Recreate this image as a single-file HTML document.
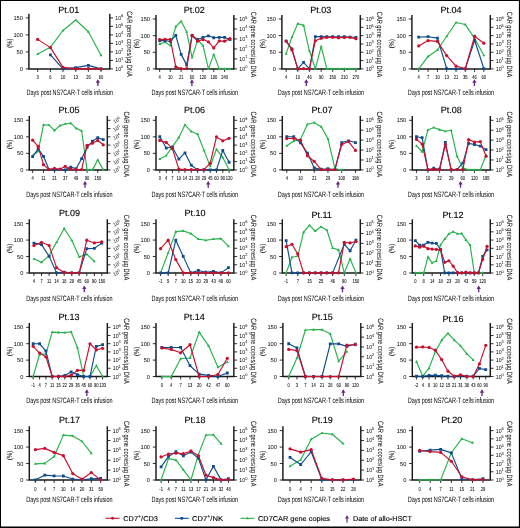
<!DOCTYPE html>
<html><head><meta charset="utf-8"><title>CD7 CAR-T patient kinetics</title>
<style>
html,body{margin:0;padding:0;background:#fff;}
body{width:520px;height:528px;overflow:hidden;font-family:"Liberation Sans",Arial,sans-serif;}
svg{display:block;will-change:transform;}
svg text{font-family:"Liberation Sans",Arial,Helvetica,sans-serif;}
</style></head><body>
<svg width="520" height="528" viewBox="0 0 520 528" text-rendering="geometricPrecision">
<rect x="0" y="0" width="520" height="528" fill="#fff"/>
<g>
<text x="68.7" y="13.4" font-size="9" text-anchor="middle" fill="#000" stroke="#000" stroke-width="0.12" >Pt.01</text>
<path fill="none" stroke="#1a1a1a" stroke-width="1.45" d="M28.9 13.8V68.9H109.8V13.8"/>
<path fill="none" stroke="#1a1a1a" stroke-width="0.9" d="M28.9 68.9h-3.2M28.9 51.9h-3.2M28.9 34.9h-3.2M28.9 17.9h-3.2M109.8 68.9h3.2M109.8 60.4h3.2M109.8 51.9h3.2M109.8 43.4h3.2M109.8 34.9h3.2M109.8 26.4h3.2M109.8 17.9h3.2M37.66 68.9v3M50.42 68.9v3M63.02 68.9v3M75.78 68.9v3M88.38 68.9v3M100.98 68.9v3"/>
<polyline fill="none" stroke="#25b34b" stroke-width="1.15" stroke-linejoin="round" points="37.66,54.08 50.42,47.13 63.02,30.49 75.78,19.99 88.38,31.78 100.98,55.21"/>
<path fill="#25b34b" d="M37.66 52.48l1.5 2.6h-3zM50.42 45.53l1.5 2.6h-3zM63.02 28.89l1.5 2.6h-3zM75.78 18.39l1.5 2.6h-3zM88.38 30.18l1.5 2.6h-3zM100.98 53.61l1.5 2.6h-3z"/>
<polyline fill="none" stroke="#0f4c8c" stroke-width="1.15" stroke-linejoin="round" points="50.42,54.88 63.02,68.9 75.78,67.65 88.38,65.38 100.98,68.9"/>
<path fill="#0f4c8c" d="M49.02 53.48h2.8v2.8h-2.8zM61.62 67.5h2.8v2.8h-2.8zM74.38 66.25h2.8v2.8h-2.8zM86.98 63.98h2.8v2.8h-2.8zM99.58 67.5h2.8v2.8h-2.8z"/>
<polyline fill="none" stroke="#c8102e" stroke-width="1.15" stroke-linejoin="round" points="37.66,39.38 50.42,47.62 63.02,67.32 75.78,68.9 88.38,68.62 100.98,68.9"/>
<circle cx="37.66" cy="39.38" r="1.62" fill="#c8102e"/>
<circle cx="50.42" cy="47.62" r="1.62" fill="#c8102e"/>
<circle cx="63.02" cy="67.32" r="1.62" fill="#c8102e"/>
<circle cx="75.78" cy="68.9" r="1.62" fill="#c8102e"/>
<circle cx="88.38" cy="68.62" r="1.62" fill="#c8102e"/>
<circle cx="100.98" cy="68.9" r="1.62" fill="#c8102e"/>
<text x="22.9" y="70.9" font-size="5.7" text-anchor="end" fill="#000" >0</text>
<text x="22.9" y="53.9" font-size="5.7" text-anchor="end" fill="#000" >50</text>
<text x="22.9" y="36.9" font-size="5.7" text-anchor="end" fill="#000" >100</text>
<text x="22.9" y="19.9" font-size="5.7" text-anchor="end" fill="#000" >150</text>
<text transform="translate(115.3 70.9) scale(0.92 1)" font-size="5.7" fill="#000" >10<tspan dy="-2.5" font-size="4.3">0</tspan></text>
<text transform="translate(115.3 62.4) scale(0.92 1)" font-size="5.7" fill="#000" >10<tspan dy="-2.5" font-size="4.3">1</tspan></text>
<text transform="translate(115.3 53.9) scale(0.92 1)" font-size="5.7" fill="#000" >10<tspan dy="-2.5" font-size="4.3">2</tspan></text>
<text transform="translate(115.3 45.4) scale(0.92 1)" font-size="5.7" fill="#000" >10<tspan dy="-2.5" font-size="4.3">3</tspan></text>
<text transform="translate(115.3 36.9) scale(0.92 1)" font-size="5.7" fill="#000" >10<tspan dy="-2.5" font-size="4.3">4</tspan></text>
<text transform="translate(115.3 28.4) scale(0.92 1)" font-size="5.7" fill="#000" >10<tspan dy="-2.5" font-size="4.3">5</tspan></text>
<text transform="translate(115.3 19.9) scale(0.92 1)" font-size="5.7" fill="#000" >10<tspan dy="-2.5" font-size="4.3">6</tspan></text>
<text transform="translate(37.66 78.8) scale(0.7 1)" font-size="5.8" text-anchor="middle" fill="#000" stroke="#000" stroke-width="0.06" >3</text>
<text transform="translate(50.42 78.8) scale(0.7 1)" font-size="5.8" text-anchor="middle" fill="#000" stroke="#000" stroke-width="0.06" >6</text>
<text transform="translate(63.02 78.8) scale(0.7 1)" font-size="5.8" text-anchor="middle" fill="#000" stroke="#000" stroke-width="0.06" >10</text>
<text transform="translate(75.78 78.8) scale(0.7 1)" font-size="5.8" text-anchor="middle" fill="#000" stroke="#000" stroke-width="0.06" >13</text>
<text transform="translate(88.38 78.8) scale(0.7 1)" font-size="5.8" text-anchor="middle" fill="#000" stroke="#000" stroke-width="0.06" >26</text>
<text transform="translate(100.98 78.8) scale(0.7 1)" font-size="5.8" text-anchor="middle" fill="#000" stroke="#000" stroke-width="0.06" >60</text>
<text transform="translate(11.8 43.2) rotate(-90) scale(0.8 1)" font-size="7.4" text-anchor="middle" fill="#000" >(%)</text>
<text transform="translate(126.9 44.05) rotate(90) scale(0.736 1)" font-size="7.7" text-anchor="middle" fill="#000" >CAR gene copies/µg DNA</text>
<text transform="translate(69.8 94.8) scale(0.706 1)" font-size="7.8" text-anchor="middle" fill="#000" >Days post NS7CAR-T cells infusion</text>
<path fill="#6a2383" d="M97.9 79.2l2.15 3.5h-1.5v3.3h-1.3v-3.3h-1.5z"/>
</g>
<g>
<text x="194.38" y="13.4" font-size="9" text-anchor="middle" fill="#000" stroke="#000" stroke-width="0.12" >Pt.02</text>
<path fill="none" stroke="#1a1a1a" stroke-width="1.45" d="M156 15V68.9H233.85V15"/>
<path fill="none" stroke="#1a1a1a" stroke-width="0.9" d="M156 68.9h-3.2M156 52.27h-3.2M156 35.63h-3.2M156 19h-3.2M233.85 68.9h3.2M233.85 58.92h3.2M233.85 48.94h3.2M233.85 38.96h3.2M233.85 28.98h3.2M233.85 19h3.2M159.65 68.9v3M170.32 68.9v3M181.14 68.9v3M192.12 68.9v3M202.95 68.9v3M213.77 68.9v3M224.59 68.9v3"/>
<polyline fill="none" stroke="#25b34b" stroke-width="1.15" stroke-linejoin="round" points="159.65,43.88 164.98,42.27 170.32,45.5 175.81,26.6 181.14,21.27 186.63,31.77 192.12,57.62 197.62,39.85 202.95,45.5 208.44,68.9 213.77,54.38 219.26,68.9 224.59,68.9 229.92,68.9"/>
<path fill="#25b34b" d="M159.65 42.28l1.5 2.6h-3zM164.98 40.67l1.5 2.6h-3zM170.32 43.9l1.5 2.6h-3zM175.81 25l1.5 2.6h-3zM181.14 19.67l1.5 2.6h-3zM186.63 30.17l1.5 2.6h-3zM192.12 56.02l1.5 2.6h-3zM197.62 38.25l1.5 2.6h-3zM202.95 43.9l1.5 2.6h-3zM208.44 67.3l1.5 2.6h-3zM213.77 52.78l1.5 2.6h-3zM219.26 67.3l1.5 2.6h-3zM224.59 67.3l1.5 2.6h-3zM229.92 67.3l1.5 2.6h-3z"/>
<polyline fill="none" stroke="#0f4c8c" stroke-width="1.15" stroke-linejoin="round" points="159.65,40.65 164.98,40.65 170.32,41.46 175.81,35.48 181.14,54.38 186.63,64.88 192.12,35.48 197.62,39.52 202.95,37.42 208.44,35.81 213.77,37.75 219.26,37.42 224.59,37.42 229.92,39.52"/>
<path fill="#0f4c8c" d="M158.25 39.25h2.8v2.8h-2.8zM163.58 39.25h2.8v2.8h-2.8zM168.92 40.06h2.8v2.8h-2.8zM174.41 34.08h2.8v2.8h-2.8zM179.74 52.98h2.8v2.8h-2.8zM185.23 63.48h2.8v2.8h-2.8zM190.72 34.08h2.8v2.8h-2.8zM196.22 38.12h2.8v2.8h-2.8zM201.55 36.02h2.8v2.8h-2.8zM207.04 34.41h2.8v2.8h-2.8zM212.37 36.35h2.8v2.8h-2.8zM217.86 36.02h2.8v2.8h-2.8zM223.19 36.02h2.8v2.8h-2.8zM228.52 38.12h2.8v2.8h-2.8z"/>
<polyline fill="none" stroke="#c8102e" stroke-width="1.15" stroke-linejoin="round" points="159.65,39.52 164.98,39.36 170.32,39.36 175.81,66.82 181.14,68.6 186.63,68.6 192.12,35.48 197.62,41.14 202.95,39.52 208.44,41.78 213.77,47.92 219.26,40.98 224.59,41.14 229.92,38.72"/>
<circle cx="159.65" cy="39.52" r="1.62" fill="#c8102e"/>
<circle cx="164.98" cy="39.36" r="1.62" fill="#c8102e"/>
<circle cx="170.32" cy="39.36" r="1.62" fill="#c8102e"/>
<circle cx="175.81" cy="66.82" r="1.62" fill="#c8102e"/>
<circle cx="181.14" cy="68.6" r="1.62" fill="#c8102e"/>
<circle cx="186.63" cy="68.6" r="1.62" fill="#c8102e"/>
<circle cx="192.12" cy="35.48" r="1.62" fill="#c8102e"/>
<circle cx="197.62" cy="41.14" r="1.62" fill="#c8102e"/>
<circle cx="202.95" cy="39.52" r="1.62" fill="#c8102e"/>
<circle cx="208.44" cy="41.78" r="1.62" fill="#c8102e"/>
<circle cx="213.77" cy="47.92" r="1.62" fill="#c8102e"/>
<circle cx="219.26" cy="40.98" r="1.62" fill="#c8102e"/>
<circle cx="224.59" cy="41.14" r="1.62" fill="#c8102e"/>
<circle cx="229.92" cy="38.72" r="1.62" fill="#c8102e"/>
<text x="150" y="70.9" font-size="5.7" text-anchor="end" fill="#000" >0</text>
<text x="150" y="54.27" font-size="5.7" text-anchor="end" fill="#000" >50</text>
<text x="150" y="37.63" font-size="5.7" text-anchor="end" fill="#000" >100</text>
<text x="150" y="21" font-size="5.7" text-anchor="end" fill="#000" >150</text>
<text transform="translate(239.35 70.9) scale(0.92 1)" font-size="5.7" fill="#000" >10<tspan dy="-2.5" font-size="4.3">0</tspan></text>
<text transform="translate(239.35 60.92) scale(0.92 1)" font-size="5.7" fill="#000" >10<tspan dy="-2.5" font-size="4.3">1</tspan></text>
<text transform="translate(239.35 50.94) scale(0.92 1)" font-size="5.7" fill="#000" >10<tspan dy="-2.5" font-size="4.3">2</tspan></text>
<text transform="translate(239.35 40.96) scale(0.92 1)" font-size="5.7" fill="#000" >10<tspan dy="-2.5" font-size="4.3">3</tspan></text>
<text transform="translate(239.35 30.98) scale(0.92 1)" font-size="5.7" fill="#000" >10<tspan dy="-2.5" font-size="4.3">4</tspan></text>
<text transform="translate(239.35 21) scale(0.92 1)" font-size="5.7" fill="#000" >10<tspan dy="-2.5" font-size="4.3">5</tspan></text>
<text transform="translate(159.65 78.8) scale(0.7 1)" font-size="5.8" text-anchor="middle" fill="#000" stroke="#000" stroke-width="0.06" >4</text>
<text transform="translate(170.32 78.8) scale(0.7 1)" font-size="5.8" text-anchor="middle" fill="#000" stroke="#000" stroke-width="0.06" >10</text>
<text transform="translate(181.14 78.8) scale(0.7 1)" font-size="5.8" text-anchor="middle" fill="#000" stroke="#000" stroke-width="0.06" >21</text>
<text transform="translate(192.12 78.8) scale(0.7 1)" font-size="5.8" text-anchor="middle" fill="#000" stroke="#000" stroke-width="0.06" >60</text>
<text transform="translate(202.95 78.8) scale(0.7 1)" font-size="5.8" text-anchor="middle" fill="#000" stroke="#000" stroke-width="0.06" >120</text>
<text transform="translate(213.77 78.8) scale(0.7 1)" font-size="5.8" text-anchor="middle" fill="#000" stroke="#000" stroke-width="0.06" >180</text>
<text transform="translate(224.59 78.8) scale(0.7 1)" font-size="5.8" text-anchor="middle" fill="#000" stroke="#000" stroke-width="0.06" >240</text>
<text transform="translate(139.4 43.75) rotate(-90) scale(0.8 1)" font-size="7.4" text-anchor="middle" fill="#000" >(%)</text>
<text transform="translate(250.95 44.6) rotate(90) scale(0.736 1)" font-size="7.7" text-anchor="middle" fill="#000" >CAR gene copies/µg DNA</text>
<text transform="translate(194.78 94.8) scale(0.706 1)" font-size="7.8" text-anchor="middle" fill="#000" >Days post NS7CAR-T cells infusion</text>
<path fill="#6a2383" d="M191.9 79.2l2.15 3.5h-1.5v3.3h-1.3v-3.3h-1.5z"/>
</g>
<g>
<text x="320.7" y="13.4" font-size="9" text-anchor="middle" fill="#000" stroke="#000" stroke-width="0.12" >Pt.03</text>
<path fill="none" stroke="#1a1a1a" stroke-width="1.45" d="M281.9 15V68.9H360.3V15"/>
<path fill="none" stroke="#1a1a1a" stroke-width="0.9" d="M281.9 68.9h-3.2M281.9 52.27h-3.2M281.9 35.63h-3.2M281.9 19h-3.2M360.3 68.9h3.2M360.3 60.58h3.2M360.3 52.27h3.2M360.3 43.95h3.2M360.3 35.63h3.2M360.3 27.32h3.2M360.3 19h3.2M286.14 68.9v3M297.77 68.9v3M309.4 68.9v3M321.19 68.9v3M332.66 68.9v3M344.29 68.9v3M355.92 68.9v3"/>
<polyline fill="none" stroke="#25b34b" stroke-width="1.15" stroke-linejoin="round" points="286.14,53.68 291.95,37.04 297.77,23.63 303.58,25.41 309.4,50.77 315.38,68.86 321.19,46.41 326.85,68.86 332.66,68.86 338.48,68.86 344.29,68.86 350.11,68.86 355.92,68.86"/>
<path fill="#25b34b" d="M286.14 52.08l1.5 2.6h-3zM291.95 35.44l1.5 2.6h-3zM297.77 22.03l1.5 2.6h-3zM303.58 23.81l1.5 2.6h-3zM309.4 49.17l1.5 2.6h-3zM315.38 67.26l1.5 2.6h-3zM321.19 44.81l1.5 2.6h-3zM326.85 67.26l1.5 2.6h-3zM332.66 67.26l1.5 2.6h-3zM338.48 67.26l1.5 2.6h-3zM344.29 67.26l1.5 2.6h-3zM350.11 67.26l1.5 2.6h-3zM355.92 67.26l1.5 2.6h-3z"/>
<polyline fill="none" stroke="#0f4c8c" stroke-width="1.15" stroke-linejoin="round" points="286.14,41.08 291.95,48.83 297.77,68.86 303.58,62.4 309.4,68.86 315.38,36.55 321.19,36.55 326.85,36.72 332.66,36.72 338.48,36.72 344.29,36.72 350.11,37.04 355.92,37.52"/>
<path fill="#0f4c8c" d="M284.74 39.68h2.8v2.8h-2.8zM290.55 47.43h2.8v2.8h-2.8zM296.37 67.46h2.8v2.8h-2.8zM302.18 61h2.8v2.8h-2.8zM308 67.46h2.8v2.8h-2.8zM313.98 35.15h2.8v2.8h-2.8zM319.79 35.15h2.8v2.8h-2.8zM325.45 35.32h2.8v2.8h-2.8zM331.26 35.32h2.8v2.8h-2.8zM337.08 35.32h2.8v2.8h-2.8zM342.89 35.32h2.8v2.8h-2.8zM348.71 35.64h2.8v2.8h-2.8zM354.52 36.12h2.8v2.8h-2.8z"/>
<polyline fill="none" stroke="#c8102e" stroke-width="1.15" stroke-linejoin="round" points="286.14,41.08 291.95,49.96 297.77,68.86 303.58,68.54 309.4,68.86 315.38,40.75 321.19,38.33 326.85,37.36 332.66,37.36 338.48,37.85 344.29,37.52 350.11,37.36 355.92,38.65"/>
<circle cx="286.14" cy="41.08" r="1.62" fill="#c8102e"/>
<circle cx="291.95" cy="49.96" r="1.62" fill="#c8102e"/>
<circle cx="297.77" cy="68.86" r="1.62" fill="#c8102e"/>
<circle cx="303.58" cy="68.54" r="1.62" fill="#c8102e"/>
<circle cx="309.4" cy="68.86" r="1.62" fill="#c8102e"/>
<circle cx="315.38" cy="40.75" r="1.62" fill="#c8102e"/>
<circle cx="321.19" cy="38.33" r="1.62" fill="#c8102e"/>
<circle cx="326.85" cy="37.36" r="1.62" fill="#c8102e"/>
<circle cx="332.66" cy="37.36" r="1.62" fill="#c8102e"/>
<circle cx="338.48" cy="37.85" r="1.62" fill="#c8102e"/>
<circle cx="344.29" cy="37.52" r="1.62" fill="#c8102e"/>
<circle cx="350.11" cy="37.36" r="1.62" fill="#c8102e"/>
<circle cx="355.92" cy="38.65" r="1.62" fill="#c8102e"/>
<text x="275.9" y="70.9" font-size="5.7" text-anchor="end" fill="#000" >0</text>
<text x="275.9" y="54.27" font-size="5.7" text-anchor="end" fill="#000" >50</text>
<text x="275.9" y="37.63" font-size="5.7" text-anchor="end" fill="#000" >100</text>
<text x="275.9" y="21" font-size="5.7" text-anchor="end" fill="#000" >150</text>
<text transform="translate(365.8 70.9) scale(0.92 1)" font-size="5.7" fill="#000" >10<tspan dy="-2.5" font-size="4.3">0</tspan></text>
<text transform="translate(365.8 62.58) scale(0.92 1)" font-size="5.7" fill="#000" >10<tspan dy="-2.5" font-size="4.3">1</tspan></text>
<text transform="translate(365.8 54.27) scale(0.92 1)" font-size="5.7" fill="#000" >10<tspan dy="-2.5" font-size="4.3">2</tspan></text>
<text transform="translate(365.8 45.95) scale(0.92 1)" font-size="5.7" fill="#000" >10<tspan dy="-2.5" font-size="4.3">3</tspan></text>
<text transform="translate(365.8 37.63) scale(0.92 1)" font-size="5.7" fill="#000" >10<tspan dy="-2.5" font-size="4.3">4</tspan></text>
<text transform="translate(365.8 29.32) scale(0.92 1)" font-size="5.7" fill="#000" >10<tspan dy="-2.5" font-size="4.3">5</tspan></text>
<text transform="translate(365.8 21) scale(0.92 1)" font-size="5.7" fill="#000" >10<tspan dy="-2.5" font-size="4.3">6</tspan></text>
<text transform="translate(286.14 78.8) scale(0.7 1)" font-size="5.8" text-anchor="middle" fill="#000" stroke="#000" stroke-width="0.06" >4</text>
<text transform="translate(297.77 78.8) scale(0.7 1)" font-size="5.8" text-anchor="middle" fill="#000" stroke="#000" stroke-width="0.06" >10</text>
<text transform="translate(309.4 78.8) scale(0.7 1)" font-size="5.8" text-anchor="middle" fill="#000" stroke="#000" stroke-width="0.06" >46</text>
<text transform="translate(321.19 78.8) scale(0.7 1)" font-size="5.8" text-anchor="middle" fill="#000" stroke="#000" stroke-width="0.06" >90</text>
<text transform="translate(332.66 78.8) scale(0.7 1)" font-size="5.8" text-anchor="middle" fill="#000" stroke="#000" stroke-width="0.06" >150</text>
<text transform="translate(344.29 78.8) scale(0.7 1)" font-size="5.8" text-anchor="middle" fill="#000" stroke="#000" stroke-width="0.06" >210</text>
<text transform="translate(355.92 78.8) scale(0.7 1)" font-size="5.8" text-anchor="middle" fill="#000" stroke="#000" stroke-width="0.06" >270</text>
<text transform="translate(264.9 43.75) rotate(-90) scale(0.8 1)" font-size="7.4" text-anchor="middle" fill="#000" >(%)</text>
<text transform="translate(377.4 44.6) rotate(90) scale(0.736 1)" font-size="7.7" text-anchor="middle" fill="#000" >CAR gene copies/µg DNA</text>
<text transform="translate(320.9 94.8) scale(0.706 1)" font-size="7.8" text-anchor="middle" fill="#000" >Days post NS7CAR-T cells infusion</text>
<path fill="#6a2383" d="M306.3 79.2l2.15 3.5h-1.5v3.3h-1.3v-3.3h-1.5z"/>
</g>
<g>
<text x="451" y="13.4" font-size="9" text-anchor="middle" fill="#000" stroke="#000" stroke-width="0.12" >Pt.04</text>
<path fill="none" stroke="#1a1a1a" stroke-width="1.45" d="M411.9 15V68.9H490.3V15"/>
<path fill="none" stroke="#1a1a1a" stroke-width="0.9" d="M411.9 68.9h-3.2M411.9 52.27h-3.2M411.9 35.63h-3.2M411.9 19h-3.2M490.3 68.9h3.2M490.3 60.58h3.2M490.3 52.27h3.2M490.3 43.95h3.2M490.3 35.63h3.2M490.3 27.32h3.2M490.3 19h3.2M418.72 68.9v3M428.09 68.9v3M437.46 68.9v3M446.67 68.9v3M456.04 68.9v3M465.25 68.9v3M474.62 68.9v3M483.82 68.9v3"/>
<polyline fill="none" stroke="#25b34b" stroke-width="1.15" stroke-linejoin="round" points="418.72,68.86 428.09,56.42 437.46,49.96 446.67,36.23 456.04,22.5 465.25,24.44 474.62,38.65 483.82,55.29"/>
<path fill="#25b34b" d="M418.72 67.26l1.5 2.6h-3zM428.09 54.82l1.5 2.6h-3zM437.46 48.36l1.5 2.6h-3zM446.67 34.63l1.5 2.6h-3zM456.04 20.9l1.5 2.6h-3zM465.25 22.84l1.5 2.6h-3zM474.62 37.05l1.5 2.6h-3zM483.82 53.69l1.5 2.6h-3z"/>
<polyline fill="none" stroke="#0f4c8c" stroke-width="1.15" stroke-linejoin="round" points="418.72,37.04 428.09,36.72 437.46,38.17 446.67,68.54 456.04,68.86 465.25,68.86 474.62,40.27 483.82,68.54"/>
<path fill="#0f4c8c" d="M417.32 35.64h2.8v2.8h-2.8zM426.69 35.32h2.8v2.8h-2.8zM436.06 36.77h2.8v2.8h-2.8zM445.27 67.14h2.8v2.8h-2.8zM454.64 67.46h2.8v2.8h-2.8zM463.85 67.46h2.8v2.8h-2.8zM473.22 38.87h2.8v2.8h-2.8zM482.42 67.14h2.8v2.8h-2.8z"/>
<polyline fill="none" stroke="#c8102e" stroke-width="1.15" stroke-linejoin="round" points="418.72,45.92 428.09,40.59 437.46,41.4 446.67,55.62 456.04,66.12 465.25,68.54 474.62,36.23 483.82,43.18"/>
<circle cx="418.72" cy="45.92" r="1.62" fill="#c8102e"/>
<circle cx="428.09" cy="40.59" r="1.62" fill="#c8102e"/>
<circle cx="437.46" cy="41.4" r="1.62" fill="#c8102e"/>
<circle cx="446.67" cy="55.62" r="1.62" fill="#c8102e"/>
<circle cx="456.04" cy="66.12" r="1.62" fill="#c8102e"/>
<circle cx="465.25" cy="68.54" r="1.62" fill="#c8102e"/>
<circle cx="474.62" cy="36.23" r="1.62" fill="#c8102e"/>
<circle cx="483.82" cy="43.18" r="1.62" fill="#c8102e"/>
<text x="405.9" y="70.9" font-size="5.7" text-anchor="end" fill="#000" >0</text>
<text x="405.9" y="54.27" font-size="5.7" text-anchor="end" fill="#000" >50</text>
<text x="405.9" y="37.63" font-size="5.7" text-anchor="end" fill="#000" >100</text>
<text x="405.9" y="21" font-size="5.7" text-anchor="end" fill="#000" >150</text>
<text transform="translate(495.8 70.9) scale(0.92 1)" font-size="5.7" fill="#000" >10<tspan dy="-2.5" font-size="4.3">0</tspan></text>
<text transform="translate(495.8 62.58) scale(0.92 1)" font-size="5.7" fill="#000" >10<tspan dy="-2.5" font-size="4.3">1</tspan></text>
<text transform="translate(495.8 54.27) scale(0.92 1)" font-size="5.7" fill="#000" >10<tspan dy="-2.5" font-size="4.3">2</tspan></text>
<text transform="translate(495.8 45.95) scale(0.92 1)" font-size="5.7" fill="#000" >10<tspan dy="-2.5" font-size="4.3">3</tspan></text>
<text transform="translate(495.8 37.63) scale(0.92 1)" font-size="5.7" fill="#000" >10<tspan dy="-2.5" font-size="4.3">4</tspan></text>
<text transform="translate(495.8 29.32) scale(0.92 1)" font-size="5.7" fill="#000" >10<tspan dy="-2.5" font-size="4.3">5</tspan></text>
<text transform="translate(495.8 21) scale(0.92 1)" font-size="5.7" fill="#000" >10<tspan dy="-2.5" font-size="4.3">6</tspan></text>
<text transform="translate(418.72 78.8) scale(0.7 1)" font-size="5.8" text-anchor="middle" fill="#000" stroke="#000" stroke-width="0.06" >4</text>
<text transform="translate(428.09 78.8) scale(0.7 1)" font-size="5.8" text-anchor="middle" fill="#000" stroke="#000" stroke-width="0.06" >7</text>
<text transform="translate(437.46 78.8) scale(0.7 1)" font-size="5.8" text-anchor="middle" fill="#000" stroke="#000" stroke-width="0.06" >10</text>
<text transform="translate(446.67 78.8) scale(0.7 1)" font-size="5.8" text-anchor="middle" fill="#000" stroke="#000" stroke-width="0.06" >13</text>
<text transform="translate(456.04 78.8) scale(0.7 1)" font-size="5.8" text-anchor="middle" fill="#000" stroke="#000" stroke-width="0.06" >21</text>
<text transform="translate(465.25 78.8) scale(0.7 1)" font-size="5.8" text-anchor="middle" fill="#000" stroke="#000" stroke-width="0.06" >35</text>
<text transform="translate(474.62 78.8) scale(0.7 1)" font-size="5.8" text-anchor="middle" fill="#000" stroke="#000" stroke-width="0.06" >46</text>
<text transform="translate(483.82 78.8) scale(0.7 1)" font-size="5.8" text-anchor="middle" fill="#000" stroke="#000" stroke-width="0.06" >60</text>
<text transform="translate(393.9 43.75) rotate(-90) scale(0.8 1)" font-size="7.4" text-anchor="middle" fill="#000" >(%)</text>
<text transform="translate(507.4 44.6) rotate(90) scale(0.736 1)" font-size="7.7" text-anchor="middle" fill="#000" >CAR gene copies/µg DNA</text>
<text transform="translate(450.9 94.8) scale(0.706 1)" font-size="7.8" text-anchor="middle" fill="#000" >Days post NS7CAR-T cells infusion</text>
<path fill="#6a2383" d="M474.4 79.2l2.15 3.5h-1.5v3.3h-1.3v-3.3h-1.5z"/>
</g>
<g>
<text x="69.1" y="113.3" font-size="9" text-anchor="middle" fill="#000" stroke="#000" stroke-width="0.12" >Pt.05</text>
<path fill="none" stroke="#1a1a1a" stroke-width="1.45" d="M29.3 115.9V169.9H107.3V115.9"/>
<path fill="none" stroke="#1a1a1a" stroke-width="0.9" d="M29.3 169.9h-3.2M29.3 153.37h-3.2M29.3 136.83h-3.2M29.3 120.3h-3.2M107.3 169.9h3.2M107.3 161.63h3.2M107.3 153.37h3.2M107.3 145.1h3.2M107.3 136.83h3.2M107.3 128.57h3.2M107.3 120.3h3.2M32.65 169.9v3M43.48 169.9v3M54.46 169.9v3M65.28 169.9v3M76.11 169.9v3M87.09 169.9v3M97.75 169.9v3"/>
<polyline fill="none" stroke="#25b34b" stroke-width="1.15" stroke-linejoin="round" points="32.65,155.81 38.15,151.28 43.48,124.79 48.97,125.12 54.46,130.45 59.95,125.6 65.28,123.98 70.78,123.18 76.11,128.35 81.6,130.77 87.09,169.86 92.42,169.86 97.75,159.85 103.25,169.86"/>
<path fill="#25b34b" d="M32.65 154.21l1.5 2.6h-3zM38.15 149.68l1.5 2.6h-3zM43.48 123.19l1.5 2.6h-3zM48.97 123.52l1.5 2.6h-3zM54.46 128.85l1.5 2.6h-3zM59.95 124l1.5 2.6h-3zM65.28 122.38l1.5 2.6h-3zM70.78 121.58l1.5 2.6h-3zM76.11 126.75l1.5 2.6h-3zM81.6 129.17l1.5 2.6h-3zM87.09 168.26l1.5 2.6h-3zM92.42 168.26l1.5 2.6h-3zM97.75 158.25l1.5 2.6h-3zM103.25 168.26l1.5 2.6h-3z"/>
<polyline fill="none" stroke="#0f4c8c" stroke-width="1.15" stroke-linejoin="round" points="32.65,156.62 38.15,148.86 43.48,156.29 48.97,169.54 54.46,169.86 59.95,169.54 65.28,169.86 70.78,167.12 76.11,168.73 81.6,158.72 87.09,147.41 92.42,141.27 97.75,137.72 103.25,139.65"/>
<path fill="#0f4c8c" d="M31.25 155.22h2.8v2.8h-2.8zM36.75 147.46h2.8v2.8h-2.8zM42.08 154.89h2.8v2.8h-2.8zM47.57 168.14h2.8v2.8h-2.8zM53.06 168.46h2.8v2.8h-2.8zM58.55 168.14h2.8v2.8h-2.8zM63.88 168.46h2.8v2.8h-2.8zM69.38 165.72h2.8v2.8h-2.8zM74.71 167.33h2.8v2.8h-2.8zM80.2 157.32h2.8v2.8h-2.8zM85.69 146.01h2.8v2.8h-2.8zM91.02 139.87h2.8v2.8h-2.8zM96.35 136.32h2.8v2.8h-2.8zM101.85 138.25h2.8v2.8h-2.8z"/>
<polyline fill="none" stroke="#c8102e" stroke-width="1.15" stroke-linejoin="round" points="32.65,140.14 38.15,146.44 43.48,164.69 48.97,169.54 54.46,168.25 59.95,169.22 65.28,166.31 70.78,169.22 76.11,169.54 81.6,169.54 87.09,145.31 92.42,143.21 97.75,140.46 103.25,144.82"/>
<circle cx="32.65" cy="140.14" r="1.62" fill="#c8102e"/>
<circle cx="38.15" cy="146.44" r="1.62" fill="#c8102e"/>
<circle cx="43.48" cy="164.69" r="1.62" fill="#c8102e"/>
<circle cx="48.97" cy="169.54" r="1.62" fill="#c8102e"/>
<circle cx="54.46" cy="168.25" r="1.62" fill="#c8102e"/>
<circle cx="59.95" cy="169.22" r="1.62" fill="#c8102e"/>
<circle cx="65.28" cy="166.31" r="1.62" fill="#c8102e"/>
<circle cx="70.78" cy="169.22" r="1.62" fill="#c8102e"/>
<circle cx="76.11" cy="169.54" r="1.62" fill="#c8102e"/>
<circle cx="81.6" cy="169.54" r="1.62" fill="#c8102e"/>
<circle cx="87.09" cy="145.31" r="1.62" fill="#c8102e"/>
<circle cx="92.42" cy="143.21" r="1.62" fill="#c8102e"/>
<circle cx="97.75" cy="140.46" r="1.62" fill="#c8102e"/>
<circle cx="103.25" cy="144.82" r="1.62" fill="#c8102e"/>
<text x="23.3" y="171.9" font-size="5.7" text-anchor="end" fill="#000" >0</text>
<text x="23.3" y="155.37" font-size="5.7" text-anchor="end" fill="#000" >50</text>
<text x="23.3" y="138.83" font-size="5.7" text-anchor="end" fill="#000" >100</text>
<text x="23.3" y="122.3" font-size="5.7" text-anchor="end" fill="#000" >150</text>
<text transform="translate(116.6 169.7) rotate(-27) scale(0.9 1)" font-size="5.4" text-anchor="middle" fill="#000" ><tspan dy="2">10</tspan><tspan dy="-2.1" font-size="3.7">0</tspan></text>
<text transform="translate(116.6 161.43) rotate(-27) scale(0.9 1)" font-size="5.4" text-anchor="middle" fill="#000" ><tspan dy="2">10</tspan><tspan dy="-2.1" font-size="3.7">1</tspan></text>
<text transform="translate(116.6 153.17) rotate(-27) scale(0.9 1)" font-size="5.4" text-anchor="middle" fill="#000" ><tspan dy="2">10</tspan><tspan dy="-2.1" font-size="3.7">2</tspan></text>
<text transform="translate(116.6 144.9) rotate(-27) scale(0.9 1)" font-size="5.4" text-anchor="middle" fill="#000" ><tspan dy="2">10</tspan><tspan dy="-2.1" font-size="3.7">3</tspan></text>
<text transform="translate(116.6 136.63) rotate(-27) scale(0.9 1)" font-size="5.4" text-anchor="middle" fill="#000" ><tspan dy="2">10</tspan><tspan dy="-2.1" font-size="3.7">4</tspan></text>
<text transform="translate(116.6 128.37) rotate(-27) scale(0.9 1)" font-size="5.4" text-anchor="middle" fill="#000" ><tspan dy="2">10</tspan><tspan dy="-2.1" font-size="3.7">5</tspan></text>
<text transform="translate(116.6 120.1) rotate(-27) scale(0.9 1)" font-size="5.4" text-anchor="middle" fill="#000" ><tspan dy="2">10</tspan><tspan dy="-2.1" font-size="3.7">6</tspan></text>
<text transform="translate(32.65 180) scale(0.7 1)" font-size="5.8" text-anchor="middle" fill="#000" stroke="#000" stroke-width="0.06" >4</text>
<text transform="translate(43.48 180) scale(0.7 1)" font-size="5.8" text-anchor="middle" fill="#000" stroke="#000" stroke-width="0.06" >11</text>
<text transform="translate(54.46 180) scale(0.7 1)" font-size="5.8" text-anchor="middle" fill="#000" stroke="#000" stroke-width="0.06" >21</text>
<text transform="translate(65.28 180) scale(0.7 1)" font-size="5.8" text-anchor="middle" fill="#000" stroke="#000" stroke-width="0.06" >37</text>
<text transform="translate(76.11 180) scale(0.7 1)" font-size="5.8" text-anchor="middle" fill="#000" stroke="#000" stroke-width="0.06" >49</text>
<text transform="translate(87.09 180) scale(0.7 1)" font-size="5.8" text-anchor="middle" fill="#000" stroke="#000" stroke-width="0.06" >90</text>
<text transform="translate(97.75 180) scale(0.7 1)" font-size="5.8" text-anchor="middle" fill="#000" stroke="#000" stroke-width="0.06" >150</text>
<text transform="translate(12.2 144.5) rotate(-90) scale(0.8 1)" font-size="7.4" text-anchor="middle" fill="#000" >(%)</text>
<text transform="translate(124.4 144.25) rotate(90) scale(0.736 1)" font-size="7.7" text-anchor="middle" fill="#000" >CAR gene copies/µg DNA</text>
<text transform="translate(69.4 196.8) scale(0.706 1)" font-size="7.8" text-anchor="middle" fill="#000" >Days post NS7CAR-T cells infusion</text>
<path fill="#6a2383" d="M85 181l2.15 3.5h-1.5v3.3h-1.3v-3.3h-1.5z"/>
</g>
<g>
<text x="194.48" y="113.3" font-size="9" text-anchor="middle" fill="#000" stroke="#000" stroke-width="0.12" >Pt.06</text>
<path fill="none" stroke="#1a1a1a" stroke-width="1.45" d="M156 115.9V169.9H233.85V115.9"/>
<path fill="none" stroke="#1a1a1a" stroke-width="0.9" d="M156 169.9h-3.2M156 153.37h-3.2M156 136.83h-3.2M156 120.3h-3.2M233.85 169.9h3.2M233.85 161.63h3.2M233.85 153.37h3.2M233.85 145.1h3.2M233.85 136.83h3.2M233.85 128.57h3.2M233.85 120.3h3.2M159.78 169.9v3M166.25 169.9v3M172.38 169.9v3M178.85 169.9v3M184.98 169.9v3M191.28 169.9v3M197.58 169.9v3M203.88 169.9v3M210.18 169.9v3M216.48 169.9v3M222.78 169.9v3M229.08 169.9v3"/>
<polyline fill="none" stroke="#25b34b" stroke-width="1.15" stroke-linejoin="round" points="159.78,159.04 166.25,155.48 172.38,146.6 178.85,137.55 184.98,124.79 191.28,131.58 197.58,134 203.88,150.15 210.18,166.31 216.48,149.35 222.78,157.42 229.08,169.86"/>
<path fill="#25b34b" d="M159.78 157.44l1.5 2.6h-3zM166.25 153.88l1.5 2.6h-3zM172.38 145l1.5 2.6h-3zM178.85 135.95l1.5 2.6h-3zM184.98 123.19l1.5 2.6h-3zM191.28 129.98l1.5 2.6h-3zM197.58 132.4l1.5 2.6h-3zM203.88 148.55l1.5 2.6h-3zM210.18 164.71l1.5 2.6h-3zM216.48 147.75l1.5 2.6h-3zM222.78 155.82l1.5 2.6h-3zM229.08 168.26l1.5 2.6h-3z"/>
<polyline fill="none" stroke="#0f4c8c" stroke-width="1.15" stroke-linejoin="round" points="159.78,136.75 166.25,148.05 172.38,147.25 178.85,159.04 184.98,152.9 191.28,165.18 197.58,169.86 203.88,169.86 210.18,169.86 216.48,169.86 222.78,150.48 229.08,162.27"/>
<path fill="#0f4c8c" d="M158.38 135.35h2.8v2.8h-2.8zM164.85 146.65h2.8v2.8h-2.8zM170.98 145.85h2.8v2.8h-2.8zM177.45 157.64h2.8v2.8h-2.8zM183.58 151.5h2.8v2.8h-2.8zM189.88 163.78h2.8v2.8h-2.8zM196.18 168.46h2.8v2.8h-2.8zM202.48 168.46h2.8v2.8h-2.8zM208.78 168.46h2.8v2.8h-2.8zM215.08 168.46h2.8v2.8h-2.8zM221.38 149.08h2.8v2.8h-2.8zM227.68 160.87h2.8v2.8h-2.8z"/>
<polyline fill="none" stroke="#c8102e" stroke-width="1.15" stroke-linejoin="round" points="159.78,140.46 166.25,142.4 172.38,148.54 178.85,169.05 184.98,169.54 191.28,169.54 197.58,169.54 203.88,169.54 210.18,163.4 216.48,136.91 222.78,140.78 229.08,138.36"/>
<circle cx="159.78" cy="140.46" r="1.62" fill="#c8102e"/>
<circle cx="166.25" cy="142.4" r="1.62" fill="#c8102e"/>
<circle cx="172.38" cy="148.54" r="1.62" fill="#c8102e"/>
<circle cx="178.85" cy="169.05" r="1.62" fill="#c8102e"/>
<circle cx="184.98" cy="169.54" r="1.62" fill="#c8102e"/>
<circle cx="191.28" cy="169.54" r="1.62" fill="#c8102e"/>
<circle cx="197.58" cy="169.54" r="1.62" fill="#c8102e"/>
<circle cx="203.88" cy="169.54" r="1.62" fill="#c8102e"/>
<circle cx="210.18" cy="163.4" r="1.62" fill="#c8102e"/>
<circle cx="216.48" cy="136.91" r="1.62" fill="#c8102e"/>
<circle cx="222.78" cy="140.78" r="1.62" fill="#c8102e"/>
<circle cx="229.08" cy="138.36" r="1.62" fill="#c8102e"/>
<text x="150" y="171.9" font-size="5.7" text-anchor="end" fill="#000" >0</text>
<text x="150" y="155.37" font-size="5.7" text-anchor="end" fill="#000" >50</text>
<text x="150" y="138.83" font-size="5.7" text-anchor="end" fill="#000" >100</text>
<text x="150" y="122.3" font-size="5.7" text-anchor="end" fill="#000" >150</text>
<text transform="translate(239.35 171.9) scale(0.92 1)" font-size="5.7" fill="#000" >10<tspan dy="-2.5" font-size="4.3">0</tspan></text>
<text transform="translate(239.35 163.63) scale(0.92 1)" font-size="5.7" fill="#000" >10<tspan dy="-2.5" font-size="4.3">1</tspan></text>
<text transform="translate(239.35 155.37) scale(0.92 1)" font-size="5.7" fill="#000" >10<tspan dy="-2.5" font-size="4.3">2</tspan></text>
<text transform="translate(239.35 147.1) scale(0.92 1)" font-size="5.7" fill="#000" >10<tspan dy="-2.5" font-size="4.3">3</tspan></text>
<text transform="translate(239.35 138.83) scale(0.92 1)" font-size="5.7" fill="#000" >10<tspan dy="-2.5" font-size="4.3">4</tspan></text>
<text transform="translate(239.35 130.57) scale(0.92 1)" font-size="5.7" fill="#000" >10<tspan dy="-2.5" font-size="4.3">5</tspan></text>
<text transform="translate(239.35 122.3) scale(0.92 1)" font-size="5.7" fill="#000" >10<tspan dy="-2.5" font-size="4.3">6</tspan></text>
<text transform="translate(159.78 180) scale(0.7 1)" font-size="5.8" text-anchor="middle" fill="#000" stroke="#000" stroke-width="0.06" >0</text>
<text transform="translate(166.25 180) scale(0.7 1)" font-size="5.8" text-anchor="middle" fill="#000" stroke="#000" stroke-width="0.06" >4</text>
<text transform="translate(172.38 180) scale(0.7 1)" font-size="5.8" text-anchor="middle" fill="#000" stroke="#000" stroke-width="0.06" >7</text>
<text transform="translate(178.85 180) scale(0.7 1)" font-size="5.8" text-anchor="middle" fill="#000" stroke="#000" stroke-width="0.06" >10</text>
<text transform="translate(184.98 180) scale(0.7 1)" font-size="5.8" text-anchor="middle" fill="#000" stroke="#000" stroke-width="0.06" >14</text>
<text transform="translate(191.28 180) scale(0.7 1)" font-size="5.8" text-anchor="middle" fill="#000" stroke="#000" stroke-width="0.06" >21</text>
<text transform="translate(197.58 180) scale(0.7 1)" font-size="5.8" text-anchor="middle" fill="#000" stroke="#000" stroke-width="0.06" >28</text>
<text transform="translate(203.88 180) scale(0.7 1)" font-size="5.8" text-anchor="middle" fill="#000" stroke="#000" stroke-width="0.06" >29</text>
<text transform="translate(210.18 180) scale(0.7 1)" font-size="5.8" text-anchor="middle" fill="#000" stroke="#000" stroke-width="0.06" >45</text>
<text transform="translate(216.48 180) scale(0.7 1)" font-size="5.8" text-anchor="middle" fill="#000" stroke="#000" stroke-width="0.06" >60</text>
<text transform="translate(222.78 180) scale(0.7 1)" font-size="5.8" text-anchor="middle" fill="#000" stroke="#000" stroke-width="0.06" >90</text>
<text transform="translate(229.08 180) scale(0.7 1)" font-size="5.8" text-anchor="middle" fill="#000" stroke="#000" stroke-width="0.06" >120</text>
<text transform="translate(139.4 144.5) rotate(-90) scale(0.8 1)" font-size="7.4" text-anchor="middle" fill="#000" >(%)</text>
<text transform="translate(250.95 144.25) rotate(90) scale(0.736 1)" font-size="7.7" text-anchor="middle" fill="#000" >CAR gene copies/µg DNA</text>
<text transform="translate(194.78 196.8) scale(0.706 1)" font-size="7.8" text-anchor="middle" fill="#000" >Days post NS7CAR-T cells infusion</text>
<path fill="#6a2383" d="M208.2 181l2.15 3.5h-1.5v3.3h-1.3v-3.3h-1.5z"/>
</g>
<g>
<text x="321.95" y="113.3" font-size="9" text-anchor="middle" fill="#000" stroke="#000" stroke-width="0.12" >Pt.07</text>
<path fill="none" stroke="#1a1a1a" stroke-width="1.45" d="M282.3 115.9V169.9H360.3V115.9"/>
<path fill="none" stroke="#1a1a1a" stroke-width="0.9" d="M282.3 169.9h-3.2M282.3 153.37h-3.2M282.3 136.83h-3.2M282.3 120.3h-3.2M360.3 169.9h3.2M360.3 159.98h3.2M360.3 150.06h3.2M360.3 140.14h3.2M360.3 130.22h3.2M360.3 120.3h3.2M286.78 169.9v3M300.52 169.9v3M314.25 169.9v3M327.98 169.9v3M341.71 169.9v3M355.44 169.9v3"/>
<polyline fill="none" stroke="#25b34b" stroke-width="1.15" stroke-linejoin="round" points="286.78,145.79 293.73,140.95 300.52,139.17 307.46,124.31 314.25,122.69 321.19,126.73 327.98,138.85 334.92,168.73 341.71,169.86"/>
<path fill="#25b34b" d="M286.78 144.19l1.5 2.6h-3zM293.73 139.35l1.5 2.6h-3zM300.52 137.57l1.5 2.6h-3zM307.46 122.71l1.5 2.6h-3zM314.25 121.09l1.5 2.6h-3zM321.19 125.13l1.5 2.6h-3zM327.98 137.25l1.5 2.6h-3zM334.92 167.13l1.5 2.6h-3zM341.71 168.26l1.5 2.6h-3z"/>
<polyline fill="none" stroke="#0f4c8c" stroke-width="1.15" stroke-linejoin="round" points="286.78,136.75 293.73,136.75 300.52,142.88 307.46,153.06 314.25,167.92 321.19,169.22 327.98,168.73 334.92,169.54 341.71,142.56 348.65,140.78 355.44,142.56"/>
<path fill="#0f4c8c" d="M285.38 135.35h2.8v2.8h-2.8zM292.33 135.35h2.8v2.8h-2.8zM299.12 141.48h2.8v2.8h-2.8zM306.06 151.66h2.8v2.8h-2.8zM312.85 166.52h2.8v2.8h-2.8zM319.79 167.82h2.8v2.8h-2.8zM326.58 167.33h2.8v2.8h-2.8zM333.52 168.14h2.8v2.8h-2.8zM340.31 141.16h2.8v2.8h-2.8zM347.25 139.38h2.8v2.8h-2.8zM354.04 141.16h2.8v2.8h-2.8z"/>
<polyline fill="none" stroke="#c8102e" stroke-width="1.15" stroke-linejoin="round" points="286.78,138.52 293.73,138.36 300.52,140.46 307.46,155.81 314.25,161.46 321.19,169.54 327.98,169.54 334.92,169.54 341.71,144.5 348.65,141.59 355.44,150.48"/>
<circle cx="286.78" cy="138.52" r="1.62" fill="#c8102e"/>
<circle cx="293.73" cy="138.36" r="1.62" fill="#c8102e"/>
<circle cx="300.52" cy="140.46" r="1.62" fill="#c8102e"/>
<circle cx="307.46" cy="155.81" r="1.62" fill="#c8102e"/>
<circle cx="314.25" cy="161.46" r="1.62" fill="#c8102e"/>
<circle cx="321.19" cy="169.54" r="1.62" fill="#c8102e"/>
<circle cx="327.98" cy="169.54" r="1.62" fill="#c8102e"/>
<circle cx="334.92" cy="169.54" r="1.62" fill="#c8102e"/>
<circle cx="341.71" cy="144.5" r="1.62" fill="#c8102e"/>
<circle cx="348.65" cy="141.59" r="1.62" fill="#c8102e"/>
<circle cx="355.44" cy="150.48" r="1.62" fill="#c8102e"/>
<text x="276.3" y="171.9" font-size="5.7" text-anchor="end" fill="#000" >0</text>
<text x="276.3" y="155.37" font-size="5.7" text-anchor="end" fill="#000" >50</text>
<text x="276.3" y="138.83" font-size="5.7" text-anchor="end" fill="#000" >100</text>
<text x="276.3" y="122.3" font-size="5.7" text-anchor="end" fill="#000" >150</text>
<text transform="translate(365.8 171.9) scale(0.92 1)" font-size="5.7" fill="#000" >10<tspan dy="-2.5" font-size="4.3">0</tspan></text>
<text transform="translate(365.8 161.98) scale(0.92 1)" font-size="5.7" fill="#000" >10<tspan dy="-2.5" font-size="4.3">1</tspan></text>
<text transform="translate(365.8 152.06) scale(0.92 1)" font-size="5.7" fill="#000" >10<tspan dy="-2.5" font-size="4.3">2</tspan></text>
<text transform="translate(365.8 142.14) scale(0.92 1)" font-size="5.7" fill="#000" >10<tspan dy="-2.5" font-size="4.3">3</tspan></text>
<text transform="translate(365.8 132.22) scale(0.92 1)" font-size="5.7" fill="#000" >10<tspan dy="-2.5" font-size="4.3">4</tspan></text>
<text transform="translate(365.8 122.3) scale(0.92 1)" font-size="5.7" fill="#000" >10<tspan dy="-2.5" font-size="4.3">5</tspan></text>
<text transform="translate(286.78 180) scale(0.7 1)" font-size="5.8" text-anchor="middle" fill="#000" stroke="#000" stroke-width="0.06" >4</text>
<text transform="translate(300.52 180) scale(0.7 1)" font-size="5.8" text-anchor="middle" fill="#000" stroke="#000" stroke-width="0.06" >10</text>
<text transform="translate(314.25 180) scale(0.7 1)" font-size="5.8" text-anchor="middle" fill="#000" stroke="#000" stroke-width="0.06" >21</text>
<text transform="translate(327.98 180) scale(0.7 1)" font-size="5.8" text-anchor="middle" fill="#000" stroke="#000" stroke-width="0.06" >29</text>
<text transform="translate(341.71 180) scale(0.7 1)" font-size="5.8" text-anchor="middle" fill="#000" stroke="#000" stroke-width="0.06" >108</text>
<text transform="translate(355.44 180) scale(0.7 1)" font-size="5.8" text-anchor="middle" fill="#000" stroke="#000" stroke-width="0.06" >198</text>
<text transform="translate(264.6 144.5) rotate(-90) scale(0.8 1)" font-size="7.4" text-anchor="middle" fill="#000" >(%)</text>
<text transform="translate(377.4 144.25) rotate(90) scale(0.736 1)" font-size="7.7" text-anchor="middle" fill="#000" >CAR gene copies/µg DNA</text>
<text transform="translate(320.9 196.8) scale(0.706 1)" font-size="7.8" text-anchor="middle" fill="#000" >Days post NS7CAR-T cells infusion</text>
<path fill="#6a2383" d="M338 181l2.15 3.5h-1.5v3.3h-1.3v-3.3h-1.5z"/>
</g>
<g>
<text x="451.3" y="113.3" font-size="9" text-anchor="middle" fill="#000" stroke="#000" stroke-width="0.12" >Pt.08</text>
<path fill="none" stroke="#1a1a1a" stroke-width="1.45" d="M412.3 115.9V169.9H490.3V115.9"/>
<path fill="none" stroke="#1a1a1a" stroke-width="0.9" d="M412.3 169.9h-3.2M412.3 153.37h-3.2M412.3 136.83h-3.2M412.3 120.3h-3.2M490.3 169.9h3.2M490.3 159.98h3.2M490.3 150.06h3.2M490.3 140.14h3.2M490.3 130.22h3.2M490.3 120.3h3.2M416.46 169.9v3M427.93 169.9v3M439.56 169.9v3M451.19 169.9v3M462.82 169.9v3M474.45 169.9v3M486.08 169.9v3"/>
<polyline fill="none" stroke="#25b34b" stroke-width="1.15" stroke-linejoin="round" points="416.46,145.79 422.12,151.77 427.93,129.96 433.75,127.54 439.56,129.64 445.38,131.25 451.19,130.28 457.01,156.29 462.82,167.92 468.64,169.86 474.45,169.86 480.27,169.86 486.08,155"/>
<path fill="#25b34b" d="M416.46 144.19l1.5 2.6h-3zM422.12 150.17l1.5 2.6h-3zM427.93 128.36l1.5 2.6h-3zM433.75 125.94l1.5 2.6h-3zM439.56 128.04l1.5 2.6h-3zM445.38 129.65l1.5 2.6h-3zM451.19 128.68l1.5 2.6h-3zM457.01 154.69l1.5 2.6h-3zM462.82 166.32l1.5 2.6h-3zM468.64 168.26l1.5 2.6h-3zM474.45 168.26l1.5 2.6h-3zM480.27 168.26l1.5 2.6h-3zM486.08 153.4l1.5 2.6h-3z"/>
<polyline fill="none" stroke="#0f4c8c" stroke-width="1.15" stroke-linejoin="round" points="416.46,136.75 422.12,137.72 427.93,169.86 433.75,168.25 439.56,169.22 445.38,142.4 451.19,169.86 457.01,169.54 462.82,163.08 468.64,143.37 474.45,144.5 480.27,146.12 486.08,149.67"/>
<path fill="#0f4c8c" d="M415.06 135.35h2.8v2.8h-2.8zM420.72 136.32h2.8v2.8h-2.8zM426.53 168.46h2.8v2.8h-2.8zM432.35 166.85h2.8v2.8h-2.8zM438.16 167.82h2.8v2.8h-2.8zM443.98 141h2.8v2.8h-2.8zM449.79 168.46h2.8v2.8h-2.8zM455.61 168.14h2.8v2.8h-2.8zM461.42 161.68h2.8v2.8h-2.8zM467.24 141.97h2.8v2.8h-2.8zM473.05 143.1h2.8v2.8h-2.8zM478.87 144.72h2.8v2.8h-2.8zM484.68 148.27h2.8v2.8h-2.8z"/>
<polyline fill="none" stroke="#c8102e" stroke-width="1.15" stroke-linejoin="round" points="416.46,139.33 422.12,144.02 427.93,169.54 433.75,169.22 439.56,169.54 445.38,144.5 451.19,169.54 457.01,169.54 462.82,169.54 468.64,139.65 474.45,142.08 480.27,141.59 486.08,156.29"/>
<circle cx="416.46" cy="139.33" r="1.62" fill="#c8102e"/>
<circle cx="422.12" cy="144.02" r="1.62" fill="#c8102e"/>
<circle cx="427.93" cy="169.54" r="1.62" fill="#c8102e"/>
<circle cx="433.75" cy="169.22" r="1.62" fill="#c8102e"/>
<circle cx="439.56" cy="169.54" r="1.62" fill="#c8102e"/>
<circle cx="445.38" cy="144.5" r="1.62" fill="#c8102e"/>
<circle cx="451.19" cy="169.54" r="1.62" fill="#c8102e"/>
<circle cx="457.01" cy="169.54" r="1.62" fill="#c8102e"/>
<circle cx="462.82" cy="169.54" r="1.62" fill="#c8102e"/>
<circle cx="468.64" cy="139.65" r="1.62" fill="#c8102e"/>
<circle cx="474.45" cy="142.08" r="1.62" fill="#c8102e"/>
<circle cx="480.27" cy="141.59" r="1.62" fill="#c8102e"/>
<circle cx="486.08" cy="156.29" r="1.62" fill="#c8102e"/>
<text x="406.3" y="171.9" font-size="5.7" text-anchor="end" fill="#000" >0</text>
<text x="406.3" y="155.37" font-size="5.7" text-anchor="end" fill="#000" >50</text>
<text x="406.3" y="138.83" font-size="5.7" text-anchor="end" fill="#000" >100</text>
<text x="406.3" y="122.3" font-size="5.7" text-anchor="end" fill="#000" >150</text>
<text transform="translate(495.8 171.9) scale(0.92 1)" font-size="5.7" fill="#000" >10<tspan dy="-2.5" font-size="4.3">0</tspan></text>
<text transform="translate(495.8 161.98) scale(0.92 1)" font-size="5.7" fill="#000" >10<tspan dy="-2.5" font-size="4.3">1</tspan></text>
<text transform="translate(495.8 152.06) scale(0.92 1)" font-size="5.7" fill="#000" >10<tspan dy="-2.5" font-size="4.3">2</tspan></text>
<text transform="translate(495.8 142.14) scale(0.92 1)" font-size="5.7" fill="#000" >10<tspan dy="-2.5" font-size="4.3">3</tspan></text>
<text transform="translate(495.8 132.22) scale(0.92 1)" font-size="5.7" fill="#000" >10<tspan dy="-2.5" font-size="4.3">4</tspan></text>
<text transform="translate(495.8 122.3) scale(0.92 1)" font-size="5.7" fill="#000" >10<tspan dy="-2.5" font-size="4.3">5</tspan></text>
<text transform="translate(416.46 180) scale(0.7 1)" font-size="5.8" text-anchor="middle" fill="#000" stroke="#000" stroke-width="0.06" >3</text>
<text transform="translate(427.93 180) scale(0.7 1)" font-size="5.8" text-anchor="middle" fill="#000" stroke="#000" stroke-width="0.06" >10</text>
<text transform="translate(439.56 180) scale(0.7 1)" font-size="5.8" text-anchor="middle" fill="#000" stroke="#000" stroke-width="0.06" >22</text>
<text transform="translate(451.19 180) scale(0.7 1)" font-size="5.8" text-anchor="middle" fill="#000" stroke="#000" stroke-width="0.06" >29</text>
<text transform="translate(462.82 180) scale(0.7 1)" font-size="5.8" text-anchor="middle" fill="#000" stroke="#000" stroke-width="0.06" >60</text>
<text transform="translate(474.45 180) scale(0.7 1)" font-size="5.8" text-anchor="middle" fill="#000" stroke="#000" stroke-width="0.06" >120</text>
<text transform="translate(486.08 180) scale(0.7 1)" font-size="5.8" text-anchor="middle" fill="#000" stroke="#000" stroke-width="0.06" >195</text>
<text transform="translate(394.3 144.5) rotate(-90) scale(0.8 1)" font-size="7.4" text-anchor="middle" fill="#000" >(%)</text>
<text transform="translate(507.4 144.25) rotate(90) scale(0.736 1)" font-size="7.7" text-anchor="middle" fill="#000" >CAR gene copies/µg DNA</text>
<text transform="translate(450.9 196.8) scale(0.706 1)" font-size="7.8" text-anchor="middle" fill="#000" >Days post NS7CAR-T cells infusion</text>
<path fill="#6a2383" d="M460.5 181l2.15 3.5h-1.5v3.3h-1.3v-3.3h-1.5z"/>
</g>
<g>
<text x="69.4" y="215.8" font-size="9" text-anchor="middle" fill="#000" stroke="#000" stroke-width="0.12" >Pt.09</text>
<path fill="none" stroke="#1a1a1a" stroke-width="1.45" d="M29.3 219.2V273H107.3V219.2"/>
<path fill="none" stroke="#1a1a1a" stroke-width="0.9" d="M29.3 273h-3.2M29.3 256.53h-3.2M29.3 240.07h-3.2M29.3 223.6h-3.2M107.3 273h3.2M107.3 264.77h3.2M107.3 256.53h3.2M107.3 248.3h3.2M107.3 240.07h3.2M107.3 231.83h3.2M107.3 223.6h3.2M33.95 273v3M41.54 273v3M49.13 273v3M56.56 273v3M64.15 273v3M71.75 273v3M79.18 273v3M86.77 273v3M94.36 273v3M101.79 273v3"/>
<polyline fill="none" stroke="#25b34b" stroke-width="1.15" stroke-linejoin="round" points="33.95,258.81 41.54,262.36 49.13,255.58 56.56,242.33 64.15,228.44 71.75,240.23 79.18,256.87 86.77,254.28 94.36,261.23"/>
<path fill="#25b34b" d="M33.95 257.21l1.5 2.6h-3zM41.54 260.76l1.5 2.6h-3zM49.13 253.98l1.5 2.6h-3zM56.56 240.73l1.5 2.6h-3zM64.15 226.84l1.5 2.6h-3zM71.75 238.63l1.5 2.6h-3zM79.18 255.27l1.5 2.6h-3zM86.77 252.68l1.5 2.6h-3zM94.36 259.63l1.5 2.6h-3z"/>
<polyline fill="none" stroke="#0f4c8c" stroke-width="1.15" stroke-linejoin="round" points="33.95,243.14 41.54,244.59 49.13,256.38 56.56,272.86 64.15,272.05 71.75,272.86 79.18,272.86 86.77,248.63 94.36,248.31 101.79,243.14"/>
<path fill="#0f4c8c" d="M32.55 241.74h2.8v2.8h-2.8zM40.14 243.19h2.8v2.8h-2.8zM47.73 254.98h2.8v2.8h-2.8zM55.16 271.46h2.8v2.8h-2.8zM62.75 270.65h2.8v2.8h-2.8zM70.35 271.46h2.8v2.8h-2.8zM77.78 271.46h2.8v2.8h-2.8zM85.37 247.23h2.8v2.8h-2.8zM92.96 246.91h2.8v2.8h-2.8zM100.39 241.74h2.8v2.8h-2.8z"/>
<polyline fill="none" stroke="#c8102e" stroke-width="1.15" stroke-linejoin="round" points="33.95,245.56 41.54,242.33 49.13,245.56 56.56,267.69 64.15,272.54 71.75,272.86 79.18,272.86 86.77,240.23 94.36,242.98 101.79,241.85"/>
<circle cx="33.95" cy="245.56" r="1.62" fill="#c8102e"/>
<circle cx="41.54" cy="242.33" r="1.62" fill="#c8102e"/>
<circle cx="49.13" cy="245.56" r="1.62" fill="#c8102e"/>
<circle cx="56.56" cy="267.69" r="1.62" fill="#c8102e"/>
<circle cx="64.15" cy="272.54" r="1.62" fill="#c8102e"/>
<circle cx="71.75" cy="272.86" r="1.62" fill="#c8102e"/>
<circle cx="79.18" cy="272.86" r="1.62" fill="#c8102e"/>
<circle cx="86.77" cy="240.23" r="1.62" fill="#c8102e"/>
<circle cx="94.36" cy="242.98" r="1.62" fill="#c8102e"/>
<circle cx="101.79" cy="241.85" r="1.62" fill="#c8102e"/>
<text x="23.3" y="275" font-size="5.7" text-anchor="end" fill="#000" >0</text>
<text x="23.3" y="258.53" font-size="5.7" text-anchor="end" fill="#000" >50</text>
<text x="23.3" y="242.07" font-size="5.7" text-anchor="end" fill="#000" >100</text>
<text x="23.3" y="225.6" font-size="5.7" text-anchor="end" fill="#000" >150</text>
<text transform="translate(116.6 272.8) rotate(-27) scale(0.9 1)" font-size="5.4" text-anchor="middle" fill="#000" ><tspan dy="2">10</tspan><tspan dy="-2.1" font-size="3.7">0</tspan></text>
<text transform="translate(116.6 264.57) rotate(-27) scale(0.9 1)" font-size="5.4" text-anchor="middle" fill="#000" ><tspan dy="2">10</tspan><tspan dy="-2.1" font-size="3.7">1</tspan></text>
<text transform="translate(116.6 256.33) rotate(-27) scale(0.9 1)" font-size="5.4" text-anchor="middle" fill="#000" ><tspan dy="2">10</tspan><tspan dy="-2.1" font-size="3.7">2</tspan></text>
<text transform="translate(116.6 248.1) rotate(-27) scale(0.9 1)" font-size="5.4" text-anchor="middle" fill="#000" ><tspan dy="2">10</tspan><tspan dy="-2.1" font-size="3.7">3</tspan></text>
<text transform="translate(116.6 239.87) rotate(-27) scale(0.9 1)" font-size="5.4" text-anchor="middle" fill="#000" ><tspan dy="2">10</tspan><tspan dy="-2.1" font-size="3.7">4</tspan></text>
<text transform="translate(116.6 231.63) rotate(-27) scale(0.9 1)" font-size="5.4" text-anchor="middle" fill="#000" ><tspan dy="2">10</tspan><tspan dy="-2.1" font-size="3.7">5</tspan></text>
<text transform="translate(116.6 223.4) rotate(-27) scale(0.9 1)" font-size="5.4" text-anchor="middle" fill="#000" ><tspan dy="2">10</tspan><tspan dy="-2.1" font-size="3.7">6</tspan></text>
<text transform="translate(33.95 283.4) scale(0.7 1)" font-size="5.8" text-anchor="middle" fill="#000" stroke="#000" stroke-width="0.06" >4</text>
<text transform="translate(41.54 283.4) scale(0.7 1)" font-size="5.8" text-anchor="middle" fill="#000" stroke="#000" stroke-width="0.06" >7</text>
<text transform="translate(49.13 283.4) scale(0.7 1)" font-size="5.8" text-anchor="middle" fill="#000" stroke="#000" stroke-width="0.06" >11</text>
<text transform="translate(56.56 283.4) scale(0.7 1)" font-size="5.8" text-anchor="middle" fill="#000" stroke="#000" stroke-width="0.06" >14</text>
<text transform="translate(64.15 283.4) scale(0.7 1)" font-size="5.8" text-anchor="middle" fill="#000" stroke="#000" stroke-width="0.06" >18</text>
<text transform="translate(71.75 283.4) scale(0.7 1)" font-size="5.8" text-anchor="middle" fill="#000" stroke="#000" stroke-width="0.06" >28</text>
<text transform="translate(79.18 283.4) scale(0.7 1)" font-size="5.8" text-anchor="middle" fill="#000" stroke="#000" stroke-width="0.06" >45</text>
<text transform="translate(86.77 283.4) scale(0.7 1)" font-size="5.8" text-anchor="middle" fill="#000" stroke="#000" stroke-width="0.06" >60</text>
<text transform="translate(94.36 283.4) scale(0.7 1)" font-size="5.8" text-anchor="middle" fill="#000" stroke="#000" stroke-width="0.06" >90</text>
<text transform="translate(101.79 283.4) scale(0.7 1)" font-size="5.8" text-anchor="middle" fill="#000" stroke="#000" stroke-width="0.06" >150</text>
<text transform="translate(12.2 248.3) rotate(-90) scale(0.8 1)" font-size="7.4" text-anchor="middle" fill="#000" >(%)</text>
<text transform="translate(124.4 247.6) rotate(90) scale(0.736 1)" font-size="7.7" text-anchor="middle" fill="#000" >CAR gene copies/µg DNA</text>
<text transform="translate(69.4 300.5) scale(0.706 1)" font-size="7.8" text-anchor="middle" fill="#000" >Days post NS7CAR-T cells infusion</text>
<path fill="#6a2383" d="M84.3 285.5l2.15 3.5h-1.5v3.3h-1.3v-3.3h-1.5z"/>
</g>
<g>
<text x="194.93" y="216" font-size="9" text-anchor="middle" fill="#000" stroke="#000" stroke-width="0.12" >Pt.10</text>
<path fill="none" stroke="#1a1a1a" stroke-width="1.45" d="M156 219.2V273H233.85V219.2"/>
<path fill="none" stroke="#1a1a1a" stroke-width="0.9" d="M156 273h-3.2M156 256.53h-3.2M156 240.07h-3.2M156 223.6h-3.2M233.85 273h3.2M233.85 264.77h3.2M233.85 256.53h3.2M233.85 248.3h3.2M233.85 240.07h3.2M233.85 231.83h3.2M233.85 223.6h3.2M160.59 273v3M168.18 273v3M175.78 273v3M183.21 273v3M190.8 273v3M198.39 273v3M205.82 273v3M213.42 273v3M220.85 273v3M228.44 273v3"/>
<polyline fill="none" stroke="#25b34b" stroke-width="1.15" stroke-linejoin="round" points="160.59,272.86 168.18,252.83 175.78,231.67 183.21,230.86 190.8,233.45 198.39,239.1 205.82,240.23 213.42,239.1 220.85,238.62 228.44,246.21"/>
<path fill="#25b34b" d="M160.59 271.26l1.5 2.6h-3zM168.18 251.23l1.5 2.6h-3zM175.78 230.07l1.5 2.6h-3zM183.21 229.26l1.5 2.6h-3zM190.8 231.85l1.5 2.6h-3zM198.39 237.5l1.5 2.6h-3zM205.82 238.63l1.5 2.6h-3zM213.42 237.5l1.5 2.6h-3zM220.85 237.02l1.5 2.6h-3zM228.44 244.61l1.5 2.6h-3z"/>
<polyline fill="none" stroke="#0f4c8c" stroke-width="1.15" stroke-linejoin="round" points="160.59,272.86 168.18,272.86 175.78,240.23 183.21,256.38 190.8,272.86 198.39,270.44 205.82,272.22 213.42,271.41 220.85,272.86 228.44,267.69"/>
<path fill="#0f4c8c" d="M159.19 271.46h2.8v2.8h-2.8zM166.78 271.46h2.8v2.8h-2.8zM174.38 238.83h2.8v2.8h-2.8zM181.81 254.98h2.8v2.8h-2.8zM189.4 271.46h2.8v2.8h-2.8zM196.99 269.04h2.8v2.8h-2.8zM204.42 270.82h2.8v2.8h-2.8zM212.02 270.01h2.8v2.8h-2.8zM219.45 271.46h2.8v2.8h-2.8zM227.04 266.29h2.8v2.8h-2.8z"/>
<polyline fill="none" stroke="#c8102e" stroke-width="1.15" stroke-linejoin="round" points="160.59,248.63 168.18,240.23 175.78,259.62 183.21,272.86 190.8,272.86 198.39,272.86 205.82,272.86 213.42,272.86 220.85,272.86 228.44,272.86"/>
<circle cx="160.59" cy="248.63" r="1.62" fill="#c8102e"/>
<circle cx="168.18" cy="240.23" r="1.62" fill="#c8102e"/>
<circle cx="175.78" cy="259.62" r="1.62" fill="#c8102e"/>
<circle cx="183.21" cy="272.86" r="1.62" fill="#c8102e"/>
<circle cx="190.8" cy="272.86" r="1.62" fill="#c8102e"/>
<circle cx="198.39" cy="272.86" r="1.62" fill="#c8102e"/>
<circle cx="205.82" cy="272.86" r="1.62" fill="#c8102e"/>
<circle cx="213.42" cy="272.86" r="1.62" fill="#c8102e"/>
<circle cx="220.85" cy="272.86" r="1.62" fill="#c8102e"/>
<circle cx="228.44" cy="272.86" r="1.62" fill="#c8102e"/>
<text x="150" y="275" font-size="5.7" text-anchor="end" fill="#000" >0</text>
<text x="150" y="258.53" font-size="5.7" text-anchor="end" fill="#000" >50</text>
<text x="150" y="242.07" font-size="5.7" text-anchor="end" fill="#000" >100</text>
<text x="150" y="225.6" font-size="5.7" text-anchor="end" fill="#000" >150</text>
<text transform="translate(239.35 275) scale(0.92 1)" font-size="5.7" fill="#000" >10<tspan dy="-2.5" font-size="4.3">0</tspan></text>
<text transform="translate(239.35 266.77) scale(0.92 1)" font-size="5.7" fill="#000" >10<tspan dy="-2.5" font-size="4.3">1</tspan></text>
<text transform="translate(239.35 258.53) scale(0.92 1)" font-size="5.7" fill="#000" >10<tspan dy="-2.5" font-size="4.3">2</tspan></text>
<text transform="translate(239.35 250.3) scale(0.92 1)" font-size="5.7" fill="#000" >10<tspan dy="-2.5" font-size="4.3">3</tspan></text>
<text transform="translate(239.35 242.07) scale(0.92 1)" font-size="5.7" fill="#000" >10<tspan dy="-2.5" font-size="4.3">4</tspan></text>
<text transform="translate(239.35 233.83) scale(0.92 1)" font-size="5.7" fill="#000" >10<tspan dy="-2.5" font-size="4.3">5</tspan></text>
<text transform="translate(239.35 225.6) scale(0.92 1)" font-size="5.7" fill="#000" >10<tspan dy="-2.5" font-size="4.3">6</tspan></text>
<text transform="translate(160.59 283.4) scale(0.7 1)" font-size="5.8" text-anchor="middle" fill="#000" stroke="#000" stroke-width="0.06" >-1</text>
<text transform="translate(168.18 283.4) scale(0.7 1)" font-size="5.8" text-anchor="middle" fill="#000" stroke="#000" stroke-width="0.06" >5</text>
<text transform="translate(175.78 283.4) scale(0.7 1)" font-size="5.8" text-anchor="middle" fill="#000" stroke="#000" stroke-width="0.06" >7</text>
<text transform="translate(183.21 283.4) scale(0.7 1)" font-size="5.8" text-anchor="middle" fill="#000" stroke="#000" stroke-width="0.06" >10</text>
<text transform="translate(190.8 283.4) scale(0.7 1)" font-size="5.8" text-anchor="middle" fill="#000" stroke="#000" stroke-width="0.06" >15</text>
<text transform="translate(198.39 283.4) scale(0.7 1)" font-size="5.8" text-anchor="middle" fill="#000" stroke="#000" stroke-width="0.06" >20</text>
<text transform="translate(205.82 283.4) scale(0.7 1)" font-size="5.8" text-anchor="middle" fill="#000" stroke="#000" stroke-width="0.06" >29</text>
<text transform="translate(213.42 283.4) scale(0.7 1)" font-size="5.8" text-anchor="middle" fill="#000" stroke="#000" stroke-width="0.06" >43</text>
<text transform="translate(220.85 283.4) scale(0.7 1)" font-size="5.8" text-anchor="middle" fill="#000" stroke="#000" stroke-width="0.06" >48</text>
<text transform="translate(228.44 283.4) scale(0.7 1)" font-size="5.8" text-anchor="middle" fill="#000" stroke="#000" stroke-width="0.06" >60</text>
<text transform="translate(139.4 248.3) rotate(-90) scale(0.8 1)" font-size="7.4" text-anchor="middle" fill="#000" >(%)</text>
<text transform="translate(250.95 247.6) rotate(90) scale(0.736 1)" font-size="7.7" text-anchor="middle" fill="#000" >CAR gene copies/µg DNA</text>
<text transform="translate(194.78 300.5) scale(0.706 1)" font-size="7.8" text-anchor="middle" fill="#000" >Days post NS7CAR-T cells infusion</text>
</g>
<g>
<text x="321.7" y="218.1" font-size="9" text-anchor="middle" fill="#000" stroke="#000" stroke-width="0.12" >Pt.11</text>
<path fill="none" stroke="#1a1a1a" stroke-width="1.45" d="M282.3 219.2V273H360.3V219.2"/>
<path fill="none" stroke="#1a1a1a" stroke-width="0.9" d="M282.3 273h-3.2M282.3 256.53h-3.2M282.3 240.07h-3.2M282.3 223.6h-3.2M360.3 273h3.2M360.3 263.12h3.2M360.3 253.24h3.2M360.3 243.36h3.2M360.3 233.48h3.2M360.3 223.6h3.2M286.14 273v3M297.77 273v3M309.4 273v3M321.03 273v3M332.66 273v3M344.29 273v3M355.92 273v3"/>
<polyline fill="none" stroke="#25b34b" stroke-width="1.15" stroke-linejoin="round" points="286.14,272.86 291.95,257.19 297.77,256.06 303.58,232.15 309.4,225.37 315.22,231.02 321.03,226.82 326.85,230.05 332.66,247.98 338.48,249.92 344.29,272.86 350.11,258.81 355.92,272.86"/>
<path fill="#25b34b" d="M286.14 271.26l1.5 2.6h-3zM291.95 255.59l1.5 2.6h-3zM297.77 254.46l1.5 2.6h-3zM303.58 230.55l1.5 2.6h-3zM309.4 223.77l1.5 2.6h-3zM315.22 229.42l1.5 2.6h-3zM321.03 225.22l1.5 2.6h-3zM326.85 228.45l1.5 2.6h-3zM332.66 246.38l1.5 2.6h-3zM338.48 248.32l1.5 2.6h-3zM344.29 271.26l1.5 2.6h-3zM350.11 257.21l1.5 2.6h-3zM355.92 271.26l1.5 2.6h-3z"/>
<polyline fill="none" stroke="#0f4c8c" stroke-width="1.15" stroke-linejoin="round" points="286.14,240.55 291.95,272.86 297.77,272.86 303.58,272.86 309.4,272.86 315.22,272.86 321.03,272.86 326.85,272.86 332.66,272.86 344.29,244.27 350.11,250.73 355.92,240.23"/>
<path fill="#0f4c8c" d="M284.74 239.15h2.8v2.8h-2.8zM290.55 271.46h2.8v2.8h-2.8zM296.37 271.46h2.8v2.8h-2.8zM302.18 271.46h2.8v2.8h-2.8zM308 271.46h2.8v2.8h-2.8zM313.82 271.46h2.8v2.8h-2.8zM319.63 271.46h2.8v2.8h-2.8zM325.45 271.46h2.8v2.8h-2.8zM331.26 271.46h2.8v2.8h-2.8zM342.89 242.87h2.8v2.8h-2.8zM348.71 249.33h2.8v2.8h-2.8zM354.52 238.83h2.8v2.8h-2.8z"/>
<polyline fill="none" stroke="#c8102e" stroke-width="1.15" stroke-linejoin="round" points="286.14,246.69 291.95,244.27 297.77,253.96 303.58,272.86 309.4,272.86 315.22,272.86 321.03,272.86 326.85,272.86 332.66,272.86 338.48,272.86 344.29,242.33 350.11,242.98 355.92,241.52"/>
<circle cx="286.14" cy="246.69" r="1.62" fill="#c8102e"/>
<circle cx="291.95" cy="244.27" r="1.62" fill="#c8102e"/>
<circle cx="297.77" cy="253.96" r="1.62" fill="#c8102e"/>
<circle cx="303.58" cy="272.86" r="1.62" fill="#c8102e"/>
<circle cx="309.4" cy="272.86" r="1.62" fill="#c8102e"/>
<circle cx="315.22" cy="272.86" r="1.62" fill="#c8102e"/>
<circle cx="321.03" cy="272.86" r="1.62" fill="#c8102e"/>
<circle cx="326.85" cy="272.86" r="1.62" fill="#c8102e"/>
<circle cx="332.66" cy="272.86" r="1.62" fill="#c8102e"/>
<circle cx="338.48" cy="272.86" r="1.62" fill="#c8102e"/>
<circle cx="344.29" cy="242.33" r="1.62" fill="#c8102e"/>
<circle cx="350.11" cy="242.98" r="1.62" fill="#c8102e"/>
<circle cx="355.92" cy="241.52" r="1.62" fill="#c8102e"/>
<text x="276.3" y="275" font-size="5.7" text-anchor="end" fill="#000" >0</text>
<text x="276.3" y="258.53" font-size="5.7" text-anchor="end" fill="#000" >50</text>
<text x="276.3" y="242.07" font-size="5.7" text-anchor="end" fill="#000" >100</text>
<text x="276.3" y="225.6" font-size="5.7" text-anchor="end" fill="#000" >150</text>
<text transform="translate(365.8 275) scale(0.92 1)" font-size="5.7" fill="#000" >10<tspan dy="-2.5" font-size="4.3">0</tspan></text>
<text transform="translate(365.8 265.12) scale(0.92 1)" font-size="5.7" fill="#000" >10<tspan dy="-2.5" font-size="4.3">1</tspan></text>
<text transform="translate(365.8 255.24) scale(0.92 1)" font-size="5.7" fill="#000" >10<tspan dy="-2.5" font-size="4.3">2</tspan></text>
<text transform="translate(365.8 245.36) scale(0.92 1)" font-size="5.7" fill="#000" >10<tspan dy="-2.5" font-size="4.3">3</tspan></text>
<text transform="translate(365.8 235.48) scale(0.92 1)" font-size="5.7" fill="#000" >10<tspan dy="-2.5" font-size="4.3">4</tspan></text>
<text transform="translate(365.8 225.6) scale(0.92 1)" font-size="5.7" fill="#000" >10<tspan dy="-2.5" font-size="4.3">5</tspan></text>
<text transform="translate(286.14 283.4) scale(0.7 1)" font-size="5.8" text-anchor="middle" fill="#000" stroke="#000" stroke-width="0.06" >-1</text>
<text transform="translate(297.77 283.4) scale(0.7 1)" font-size="5.8" text-anchor="middle" fill="#000" stroke="#000" stroke-width="0.06" >7</text>
<text transform="translate(309.4 283.4) scale(0.7 1)" font-size="5.8" text-anchor="middle" fill="#000" stroke="#000" stroke-width="0.06" >15</text>
<text transform="translate(321.03 283.4) scale(0.7 1)" font-size="5.8" text-anchor="middle" fill="#000" stroke="#000" stroke-width="0.06" >25</text>
<text transform="translate(332.66 283.4) scale(0.7 1)" font-size="5.8" text-anchor="middle" fill="#000" stroke="#000" stroke-width="0.06" >46</text>
<text transform="translate(344.29 283.4) scale(0.7 1)" font-size="5.8" text-anchor="middle" fill="#000" stroke="#000" stroke-width="0.06" >90</text>
<text transform="translate(355.92 283.4) scale(0.7 1)" font-size="5.8" text-anchor="middle" fill="#000" stroke="#000" stroke-width="0.06" >150</text>
<text transform="translate(264.6 248.3) rotate(-90) scale(0.8 1)" font-size="7.4" text-anchor="middle" fill="#000" >(%)</text>
<text transform="translate(377.4 247.6) rotate(90) scale(0.736 1)" font-size="7.7" text-anchor="middle" fill="#000" >CAR gene copies/µg DNA</text>
<text transform="translate(320.9 300.5) scale(0.706 1)" font-size="7.8" text-anchor="middle" fill="#000" >Days post NS7CAR-T cells infusion</text>
<path fill="#6a2383" d="M342.5 285.5l2.15 3.5h-1.5v3.3h-1.3v-3.3h-1.5z"/>
</g>
<g>
<text x="452.9" y="218.1" font-size="9" text-anchor="middle" fill="#000" stroke="#000" stroke-width="0.12" >Pt.12</text>
<path fill="none" stroke="#1a1a1a" stroke-width="1.45" d="M412.3 219.2V273H490.3V219.2"/>
<path fill="none" stroke="#1a1a1a" stroke-width="0.9" d="M412.3 273h-3.2M412.3 256.53h-3.2M412.3 240.07h-3.2M412.3 223.6h-3.2M490.3 273h3.2M490.3 264.77h3.2M490.3 256.53h3.2M490.3 248.3h3.2M490.3 240.07h3.2M490.3 231.83h3.2M490.3 223.6h3.2M415.33 273v3M423.73 273v3M432.13 273v3M440.53 273v3M448.93 273v3M457.49 273v3M465.89 273v3M474.29 273v3M482.69 273v3"/>
<polyline fill="none" stroke="#25b34b" stroke-width="1.15" stroke-linejoin="round" points="415.33,272.86 419.53,272.86 423.73,272.86 427.93,256.87 432.13,262.85 436.33,260.91 440.53,244.75 444.73,239.1 448.93,233.77 453.13,231.67 457.49,233.77 461.69,233.45 465.89,239.91 470.09,245.08 474.29,272.86 478.49,272.86 482.69,272.86"/>
<path fill="#25b34b" d="M415.33 271.26l1.5 2.6h-3zM419.53 271.26l1.5 2.6h-3zM423.73 271.26l1.5 2.6h-3zM427.93 255.27l1.5 2.6h-3zM432.13 261.25l1.5 2.6h-3zM436.33 259.31l1.5 2.6h-3zM440.53 243.15l1.5 2.6h-3zM444.73 237.5l1.5 2.6h-3zM448.93 232.17l1.5 2.6h-3zM453.13 230.07l1.5 2.6h-3zM457.49 232.17l1.5 2.6h-3zM461.69 231.85l1.5 2.6h-3zM465.89 238.31l1.5 2.6h-3zM470.09 243.48l1.5 2.6h-3zM474.29 271.26l1.5 2.6h-3zM478.49 271.26l1.5 2.6h-3zM482.69 271.26l1.5 2.6h-3z"/>
<polyline fill="none" stroke="#0f4c8c" stroke-width="1.15" stroke-linejoin="round" points="415.33,240.55 419.53,245.08 423.73,245.08 427.93,242.33 432.13,243.14 436.33,243.46 440.53,249.44 444.73,272.86 448.93,272.86 453.13,272.86 457.49,272.86 461.69,272.86 465.89,272.86 470.09,272.86 474.29,272.86 478.49,272.86 482.69,256.38 487.05,249.92"/>
<path fill="#0f4c8c" d="M413.93 239.15h2.8v2.8h-2.8zM418.13 243.68h2.8v2.8h-2.8zM422.33 243.68h2.8v2.8h-2.8zM426.53 240.93h2.8v2.8h-2.8zM430.73 241.74h2.8v2.8h-2.8zM434.93 242.06h2.8v2.8h-2.8zM439.13 248.04h2.8v2.8h-2.8zM443.33 271.46h2.8v2.8h-2.8zM447.53 271.46h2.8v2.8h-2.8zM451.73 271.46h2.8v2.8h-2.8zM456.09 271.46h2.8v2.8h-2.8zM460.29 271.46h2.8v2.8h-2.8zM464.49 271.46h2.8v2.8h-2.8zM468.69 271.46h2.8v2.8h-2.8zM472.89 271.46h2.8v2.8h-2.8zM477.09 271.46h2.8v2.8h-2.8zM481.29 254.98h2.8v2.8h-2.8zM485.65 248.52h2.8v2.8h-2.8z"/>
<polyline fill="none" stroke="#c8102e" stroke-width="1.15" stroke-linejoin="round" points="415.33,245.88 419.53,247.18 423.73,246.21 427.93,248.63 432.13,249.12 436.33,249.44 440.53,249.92 444.73,262.36 448.93,260.75 453.13,266.08 457.49,272.54 461.69,272.86 465.89,272.22 470.09,272.86 474.29,272.86 478.49,272.86 482.69,259.29 487.05,246.37"/>
<circle cx="415.33" cy="245.88" r="1.62" fill="#c8102e"/>
<circle cx="419.53" cy="247.18" r="1.62" fill="#c8102e"/>
<circle cx="423.73" cy="246.21" r="1.62" fill="#c8102e"/>
<circle cx="427.93" cy="248.63" r="1.62" fill="#c8102e"/>
<circle cx="432.13" cy="249.12" r="1.62" fill="#c8102e"/>
<circle cx="436.33" cy="249.44" r="1.62" fill="#c8102e"/>
<circle cx="440.53" cy="249.92" r="1.62" fill="#c8102e"/>
<circle cx="444.73" cy="262.36" r="1.62" fill="#c8102e"/>
<circle cx="448.93" cy="260.75" r="1.62" fill="#c8102e"/>
<circle cx="453.13" cy="266.08" r="1.62" fill="#c8102e"/>
<circle cx="457.49" cy="272.54" r="1.62" fill="#c8102e"/>
<circle cx="461.69" cy="272.86" r="1.62" fill="#c8102e"/>
<circle cx="465.89" cy="272.22" r="1.62" fill="#c8102e"/>
<circle cx="470.09" cy="272.86" r="1.62" fill="#c8102e"/>
<circle cx="474.29" cy="272.86" r="1.62" fill="#c8102e"/>
<circle cx="478.49" cy="272.86" r="1.62" fill="#c8102e"/>
<circle cx="482.69" cy="259.29" r="1.62" fill="#c8102e"/>
<circle cx="487.05" cy="246.37" r="1.62" fill="#c8102e"/>
<text x="406.3" y="275" font-size="5.7" text-anchor="end" fill="#000" >0</text>
<text x="406.3" y="258.53" font-size="5.7" text-anchor="end" fill="#000" >50</text>
<text x="406.3" y="242.07" font-size="5.7" text-anchor="end" fill="#000" >100</text>
<text x="406.3" y="225.6" font-size="5.7" text-anchor="end" fill="#000" >150</text>
<text transform="translate(495.8 275) scale(0.92 1)" font-size="5.7" fill="#000" >10<tspan dy="-2.5" font-size="4.3">0</tspan></text>
<text transform="translate(495.8 266.77) scale(0.92 1)" font-size="5.7" fill="#000" >10<tspan dy="-2.5" font-size="4.3">1</tspan></text>
<text transform="translate(495.8 258.53) scale(0.92 1)" font-size="5.7" fill="#000" >10<tspan dy="-2.5" font-size="4.3">2</tspan></text>
<text transform="translate(495.8 250.3) scale(0.92 1)" font-size="5.7" fill="#000" >10<tspan dy="-2.5" font-size="4.3">3</tspan></text>
<text transform="translate(495.8 242.07) scale(0.92 1)" font-size="5.7" fill="#000" >10<tspan dy="-2.5" font-size="4.3">4</tspan></text>
<text transform="translate(495.8 233.83) scale(0.92 1)" font-size="5.7" fill="#000" >10<tspan dy="-2.5" font-size="4.3">5</tspan></text>
<text transform="translate(495.8 225.6) scale(0.92 1)" font-size="5.7" fill="#000" >10<tspan dy="-2.5" font-size="4.3">6</tspan></text>
<text transform="translate(415.33 283.4) scale(0.7 1)" font-size="5.8" text-anchor="middle" fill="#000" stroke="#000" stroke-width="0.06" >0</text>
<text transform="translate(423.73 283.4) scale(0.7 1)" font-size="5.8" text-anchor="middle" fill="#000" stroke="#000" stroke-width="0.06" >8</text>
<text transform="translate(432.13 283.4) scale(0.7 1)" font-size="5.8" text-anchor="middle" fill="#000" stroke="#000" stroke-width="0.06" >14</text>
<text transform="translate(440.53 283.4) scale(0.7 1)" font-size="5.8" text-anchor="middle" fill="#000" stroke="#000" stroke-width="0.06" >18</text>
<text transform="translate(448.93 283.4) scale(0.7 1)" font-size="5.8" text-anchor="middle" fill="#000" stroke="#000" stroke-width="0.06" >23</text>
<text transform="translate(457.49 283.4) scale(0.7 1)" font-size="5.8" text-anchor="middle" fill="#000" stroke="#000" stroke-width="0.06" >28</text>
<text transform="translate(465.89 283.4) scale(0.7 1)" font-size="5.8" text-anchor="middle" fill="#000" stroke="#000" stroke-width="0.06" >43</text>
<text transform="translate(474.29 283.4) scale(0.7 1)" font-size="5.8" text-anchor="middle" fill="#000" stroke="#000" stroke-width="0.06" >59</text>
<text transform="translate(482.69 283.4) scale(0.7 1)" font-size="5.8" text-anchor="middle" fill="#000" stroke="#000" stroke-width="0.06" >120</text>
<text transform="translate(394.3 248.3) rotate(-90) scale(0.8 1)" font-size="7.4" text-anchor="middle" fill="#000" >(%)</text>
<text transform="translate(507.4 247.6) rotate(90) scale(0.736 1)" font-size="7.7" text-anchor="middle" fill="#000" >CAR gene copies/µg DNA</text>
<text transform="translate(450.9 300.5) scale(0.706 1)" font-size="7.8" text-anchor="middle" fill="#000" >Days post NS7CAR-T cells infusion</text>
<path fill="#6a2383" d="M478.7 285.5l2.15 3.5h-1.5v3.3h-1.3v-3.3h-1.5z"/>
</g>
<g>
<text x="69.1" y="320" font-size="9" text-anchor="middle" fill="#000" stroke="#000" stroke-width="0.12" >Pt.13</text>
<path fill="none" stroke="#1a1a1a" stroke-width="1.45" d="M29.3 322.9V376.5H107.3V322.9"/>
<path fill="none" stroke="#1a1a1a" stroke-width="0.9" d="M29.3 376.5h-3.2M29.3 360.1h-3.2M29.3 343.7h-3.2M29.3 327.3h-3.2M107.3 376.5h3.2M107.3 368.3h3.2M107.3 360.1h3.2M107.3 351.9h3.2M107.3 343.7h3.2M107.3 335.5h3.2M107.3 327.3h3.2M33.14 376.5v3M39.6 376.5v3M45.9 376.5v3M52.2 376.5v3M58.5 376.5v3M64.8 376.5v3M71.1 376.5v3M77.4 376.5v3M83.7 376.5v3M90 376.5v3M96.3 376.5v3M102.6 376.5v3"/>
<polyline fill="none" stroke="#25b34b" stroke-width="1.15" stroke-linejoin="round" points="33.14,376.5 39.6,354.41 45.9,353.92 52.2,332.12 58.5,332.44 64.8,332.6 71.1,331.79 77.4,347.46 83.7,376.5 90,376.5 96.3,365.72 102.6,376.5"/>
<path fill="#25b34b" d="M33.14 374.9l1.5 2.6h-3zM39.6 352.81l1.5 2.6h-3zM45.9 352.32l1.5 2.6h-3zM52.2 330.52l1.5 2.6h-3zM58.5 330.84l1.5 2.6h-3zM64.8 331l1.5 2.6h-3zM71.1 330.19l1.5 2.6h-3zM77.4 345.86l1.5 2.6h-3zM83.7 374.9l1.5 2.6h-3zM90 374.9l1.5 2.6h-3zM96.3 364.12l1.5 2.6h-3zM102.6 374.9l1.5 2.6h-3z"/>
<polyline fill="none" stroke="#0f4c8c" stroke-width="1.15" stroke-linejoin="round" points="33.14,343.75 39.6,343.75 45.9,351.02 52.2,376.5 58.5,376.5 64.8,375.41 71.1,372.02 77.4,374.6 83.7,376.5 90,376.5 96.3,346.33 102.6,344.72"/>
<path fill="#0f4c8c" d="M31.74 342.35h2.8v2.8h-2.8zM38.2 342.35h2.8v2.8h-2.8zM44.5 349.62h2.8v2.8h-2.8zM50.8 375.1h2.8v2.8h-2.8zM57.1 375.1h2.8v2.8h-2.8zM63.4 374.01h2.8v2.8h-2.8zM69.7 370.62h2.8v2.8h-2.8zM76 373.2h2.8v2.8h-2.8zM82.3 375.1h2.8v2.8h-2.8zM88.6 375.1h2.8v2.8h-2.8zM94.9 344.93h2.8v2.8h-2.8zM101.2 343.32h2.8v2.8h-2.8z"/>
<polyline fill="none" stroke="#c8102e" stroke-width="1.15" stroke-linejoin="round" points="33.14,346.33 39.6,353.12 45.9,356.83 52.2,376.5 58.5,376.22 64.8,376.5 71.1,375.25 77.4,370.4 83.7,370.4 90,343.75 96.3,349.88 102.6,348.27"/>
<circle cx="33.14" cy="346.33" r="1.62" fill="#c8102e"/>
<circle cx="39.6" cy="353.12" r="1.62" fill="#c8102e"/>
<circle cx="45.9" cy="356.83" r="1.62" fill="#c8102e"/>
<circle cx="52.2" cy="376.5" r="1.62" fill="#c8102e"/>
<circle cx="58.5" cy="376.22" r="1.62" fill="#c8102e"/>
<circle cx="64.8" cy="376.5" r="1.62" fill="#c8102e"/>
<circle cx="71.1" cy="375.25" r="1.62" fill="#c8102e"/>
<circle cx="77.4" cy="370.4" r="1.62" fill="#c8102e"/>
<circle cx="83.7" cy="370.4" r="1.62" fill="#c8102e"/>
<circle cx="90" cy="343.75" r="1.62" fill="#c8102e"/>
<circle cx="96.3" cy="349.88" r="1.62" fill="#c8102e"/>
<circle cx="102.6" cy="348.27" r="1.62" fill="#c8102e"/>
<text x="23.3" y="378.5" font-size="5.7" text-anchor="end" fill="#000" >0</text>
<text x="23.3" y="362.1" font-size="5.7" text-anchor="end" fill="#000" >50</text>
<text x="23.3" y="345.7" font-size="5.7" text-anchor="end" fill="#000" >100</text>
<text x="23.3" y="329.3" font-size="5.7" text-anchor="end" fill="#000" >150</text>
<text transform="translate(112.8 378.5) scale(0.92 1)" font-size="5.7" fill="#000" >10<tspan dy="-2.5" font-size="4.3">0</tspan></text>
<text transform="translate(112.8 370.3) scale(0.92 1)" font-size="5.7" fill="#000" >10<tspan dy="-2.5" font-size="4.3">1</tspan></text>
<text transform="translate(112.8 362.1) scale(0.92 1)" font-size="5.7" fill="#000" >10<tspan dy="-2.5" font-size="4.3">2</tspan></text>
<text transform="translate(112.8 353.9) scale(0.92 1)" font-size="5.7" fill="#000" >10<tspan dy="-2.5" font-size="4.3">3</tspan></text>
<text transform="translate(112.8 345.7) scale(0.92 1)" font-size="5.7" fill="#000" >10<tspan dy="-2.5" font-size="4.3">4</tspan></text>
<text transform="translate(112.8 337.5) scale(0.92 1)" font-size="5.7" fill="#000" >10<tspan dy="-2.5" font-size="4.3">5</tspan></text>
<text transform="translate(112.8 329.3) scale(0.92 1)" font-size="5.7" fill="#000" >10<tspan dy="-2.5" font-size="4.3">6</tspan></text>
<text transform="translate(33.14 386.9) scale(0.7 1)" font-size="5.8" text-anchor="middle" fill="#000" stroke="#000" stroke-width="0.06" >-1</text>
<text transform="translate(39.6 386.9) scale(0.7 1)" font-size="5.8" text-anchor="middle" fill="#000" stroke="#000" stroke-width="0.06" >4</text>
<text transform="translate(45.9 386.9) scale(0.7 1)" font-size="5.8" text-anchor="middle" fill="#000" stroke="#000" stroke-width="0.06" >7</text>
<text transform="translate(52.2 386.9) scale(0.7 1)" font-size="5.8" text-anchor="middle" fill="#000" stroke="#000" stroke-width="0.06" >11</text>
<text transform="translate(58.5 386.9) scale(0.7 1)" font-size="5.8" text-anchor="middle" fill="#000" stroke="#000" stroke-width="0.06" >15</text>
<text transform="translate(64.8 386.9) scale(0.7 1)" font-size="5.8" text-anchor="middle" fill="#000" stroke="#000" stroke-width="0.06" >22</text>
<text transform="translate(71.1 386.9) scale(0.7 1)" font-size="5.8" text-anchor="middle" fill="#000" stroke="#000" stroke-width="0.06" >29</text>
<text transform="translate(77.4 386.9) scale(0.7 1)" font-size="5.8" text-anchor="middle" fill="#000" stroke="#000" stroke-width="0.06" >35</text>
<text transform="translate(83.7 386.9) scale(0.7 1)" font-size="5.8" text-anchor="middle" fill="#000" stroke="#000" stroke-width="0.06" >45</text>
<text transform="translate(90 386.9) scale(0.7 1)" font-size="5.8" text-anchor="middle" fill="#000" stroke="#000" stroke-width="0.06" >60</text>
<text transform="translate(96.3 386.9) scale(0.7 1)" font-size="5.8" text-anchor="middle" fill="#000" stroke="#000" stroke-width="0.06" >90</text>
<text transform="translate(102.6 386.9) scale(0.7 1)" font-size="5.8" text-anchor="middle" fill="#000" stroke="#000" stroke-width="0.06" >133</text>
<text transform="translate(12.2 351.4) rotate(-90) scale(0.8 1)" font-size="7.4" text-anchor="middle" fill="#000" >(%)</text>
<text transform="translate(124.4 351) rotate(90) scale(0.736 1)" font-size="7.7" text-anchor="middle" fill="#000" >CAR gene copies/µg DNA</text>
<text transform="translate(69.4 403.1) scale(0.706 1)" font-size="7.8" text-anchor="middle" fill="#000" >Days post NS7CAR-T cells infusion</text>
<path fill="#6a2383" d="M86.8 389.3l2.15 3.5h-1.5v3.3h-1.3v-3.3h-1.5z"/>
</g>
<g>
<text x="194.38" y="320" font-size="9" text-anchor="middle" fill="#000" stroke="#000" stroke-width="0.12" >Pt.14</text>
<path fill="none" stroke="#1a1a1a" stroke-width="1.45" d="M156 322.9V376.5H233.85V322.9"/>
<path fill="none" stroke="#1a1a1a" stroke-width="0.9" d="M156 376.5h-3.2M156 360.1h-3.2M156 343.7h-3.2M156 327.3h-3.2M233.85 376.5h3.2M233.85 368.3h3.2M233.85 360.1h3.2M233.85 351.9h3.2M233.85 343.7h3.2M233.85 335.5h3.2M233.85 327.3h3.2M161.88 376.5v3M171.25 376.5v3M180.62 376.5v3M189.99 376.5v3M199.2 376.5v3M208.57 376.5v3M217.94 376.5v3M227.31 376.5v3"/>
<polyline fill="none" stroke="#25b34b" stroke-width="1.15" stroke-linejoin="round" points="161.88,376.5 171.25,376.5 180.62,358.77 189.99,357.96 199.2,332.12 208.57,345.85 217.94,367.17 227.31,362"/>
<path fill="#25b34b" d="M161.88 374.9l1.5 2.6h-3zM171.25 374.9l1.5 2.6h-3zM180.62 357.17l1.5 2.6h-3zM189.99 356.36l1.5 2.6h-3zM199.2 330.52l1.5 2.6h-3zM208.57 344.25l1.5 2.6h-3zM217.94 365.57l1.5 2.6h-3zM227.31 360.4l1.5 2.6h-3z"/>
<polyline fill="none" stroke="#0f4c8c" stroke-width="1.15" stroke-linejoin="round" points="161.88,347.46 171.25,347.46 180.62,347.46 189.99,365.72 199.2,374.12 208.57,375.41 217.94,376.5 227.31,372.98"/>
<path fill="#0f4c8c" d="M160.48 346.06h2.8v2.8h-2.8zM169.85 346.06h2.8v2.8h-2.8zM179.22 346.06h2.8v2.8h-2.8zM188.59 364.32h2.8v2.8h-2.8zM197.8 372.72h2.8v2.8h-2.8zM207.17 374.01h2.8v2.8h-2.8zM216.54 375.1h2.8v2.8h-2.8zM225.91 371.58h2.8v2.8h-2.8z"/>
<polyline fill="none" stroke="#c8102e" stroke-width="1.15" stroke-linejoin="round" points="161.88,347.95 171.25,349.4 180.62,352.79 189.99,344.72 199.2,376.5 208.57,376.5 217.94,374.44 227.31,358.28"/>
<circle cx="161.88" cy="347.95" r="1.62" fill="#c8102e"/>
<circle cx="171.25" cy="349.4" r="1.62" fill="#c8102e"/>
<circle cx="180.62" cy="352.79" r="1.62" fill="#c8102e"/>
<circle cx="189.99" cy="344.72" r="1.62" fill="#c8102e"/>
<circle cx="199.2" cy="376.5" r="1.62" fill="#c8102e"/>
<circle cx="208.57" cy="376.5" r="1.62" fill="#c8102e"/>
<circle cx="217.94" cy="374.44" r="1.62" fill="#c8102e"/>
<circle cx="227.31" cy="358.28" r="1.62" fill="#c8102e"/>
<text x="150" y="378.5" font-size="5.7" text-anchor="end" fill="#000" >0</text>
<text x="150" y="362.1" font-size="5.7" text-anchor="end" fill="#000" >50</text>
<text x="150" y="345.7" font-size="5.7" text-anchor="end" fill="#000" >100</text>
<text x="150" y="329.3" font-size="5.7" text-anchor="end" fill="#000" >150</text>
<text transform="translate(239.35 378.5) scale(0.92 1)" font-size="5.7" fill="#000" >10<tspan dy="-2.5" font-size="4.3">0</tspan></text>
<text transform="translate(239.35 370.3) scale(0.92 1)" font-size="5.7" fill="#000" >10<tspan dy="-2.5" font-size="4.3">1</tspan></text>
<text transform="translate(239.35 362.1) scale(0.92 1)" font-size="5.7" fill="#000" >10<tspan dy="-2.5" font-size="4.3">2</tspan></text>
<text transform="translate(239.35 353.9) scale(0.92 1)" font-size="5.7" fill="#000" >10<tspan dy="-2.5" font-size="4.3">3</tspan></text>
<text transform="translate(239.35 345.7) scale(0.92 1)" font-size="5.7" fill="#000" >10<tspan dy="-2.5" font-size="4.3">4</tspan></text>
<text transform="translate(239.35 337.5) scale(0.92 1)" font-size="5.7" fill="#000" >10<tspan dy="-2.5" font-size="4.3">5</tspan></text>
<text transform="translate(239.35 329.3) scale(0.92 1)" font-size="5.7" fill="#000" >10<tspan dy="-2.5" font-size="4.3">6</tspan></text>
<text transform="translate(161.88 386.9) scale(0.7 1)" font-size="5.8" text-anchor="middle" fill="#000" stroke="#000" stroke-width="0.06" >0</text>
<text transform="translate(171.25 386.9) scale(0.7 1)" font-size="5.8" text-anchor="middle" fill="#000" stroke="#000" stroke-width="0.06" >4</text>
<text transform="translate(180.62 386.9) scale(0.7 1)" font-size="5.8" text-anchor="middle" fill="#000" stroke="#000" stroke-width="0.06" >7</text>
<text transform="translate(189.99 386.9) scale(0.7 1)" font-size="5.8" text-anchor="middle" fill="#000" stroke="#000" stroke-width="0.06" >13</text>
<text transform="translate(199.2 386.9) scale(0.7 1)" font-size="5.8" text-anchor="middle" fill="#000" stroke="#000" stroke-width="0.06" >20</text>
<text transform="translate(208.57 386.9) scale(0.7 1)" font-size="5.8" text-anchor="middle" fill="#000" stroke="#000" stroke-width="0.06" >42</text>
<text transform="translate(217.94 386.9) scale(0.7 1)" font-size="5.8" text-anchor="middle" fill="#000" stroke="#000" stroke-width="0.06" >47</text>
<text transform="translate(227.31 386.9) scale(0.7 1)" font-size="5.8" text-anchor="middle" fill="#000" stroke="#000" stroke-width="0.06" >60</text>
<text transform="translate(139.4 351.4) rotate(-90) scale(0.8 1)" font-size="7.4" text-anchor="middle" fill="#000" >(%)</text>
<text transform="translate(250.95 351) rotate(90) scale(0.736 1)" font-size="7.7" text-anchor="middle" fill="#000" >CAR gene copies/µg DNA</text>
<text transform="translate(194.78 403.1) scale(0.706 1)" font-size="7.8" text-anchor="middle" fill="#000" >Days post NS7CAR-T cells infusion</text>
</g>
<g>
<text x="322.15" y="320" font-size="9" text-anchor="middle" fill="#000" stroke="#000" stroke-width="0.12" >Pt.15</text>
<path fill="none" stroke="#1a1a1a" stroke-width="1.45" d="M282.9 322.9V376.5H360.8V322.9"/>
<path fill="none" stroke="#1a1a1a" stroke-width="0.9" d="M282.9 376.5h-3.2M282.9 360.1h-3.2M282.9 343.7h-3.2M282.9 327.3h-3.2M360.8 376.5h3.2M360.8 366.66h3.2M360.8 356.82h3.2M360.8 346.98h3.2M360.8 337.14h3.2M360.8 327.3h3.2M288.72 376.5v3M296.96 376.5v3M305.36 376.5v3M313.6 376.5v3M322 376.5v3M330.24 376.5v3M338.64 376.5v3M346.88 376.5v3M355.28 376.5v3"/>
<polyline fill="none" stroke="#25b34b" stroke-width="1.15" stroke-linejoin="round" points="288.72,376.5 296.96,357.96 305.36,330.02 313.6,329.69 322,329.69 330.24,333.73 338.64,361.19 346.88,351.5"/>
<path fill="#25b34b" d="M288.72 374.9l1.5 2.6h-3zM296.96 356.36l1.5 2.6h-3zM305.36 328.42l1.5 2.6h-3zM313.6 328.09l1.5 2.6h-3zM322 328.09l1.5 2.6h-3zM330.24 332.13l1.5 2.6h-3zM338.64 359.59l1.5 2.6h-3zM346.88 349.9l1.5 2.6h-3z"/>
<polyline fill="none" stroke="#0f4c8c" stroke-width="1.15" stroke-linejoin="round" points="288.72,343.75 296.96,347.95 305.36,376.5 313.6,376.5 322,376.5 330.24,343.91 338.64,343.91 346.88,346.33 355.28,344.23"/>
<path fill="#0f4c8c" d="M287.32 342.35h2.8v2.8h-2.8zM295.56 346.55h2.8v2.8h-2.8zM303.96 375.1h2.8v2.8h-2.8zM312.2 375.1h2.8v2.8h-2.8zM320.6 375.1h2.8v2.8h-2.8zM328.84 342.51h2.8v2.8h-2.8zM337.24 342.51h2.8v2.8h-2.8zM345.48 344.93h2.8v2.8h-2.8zM353.88 342.83h2.8v2.8h-2.8z"/>
<polyline fill="none" stroke="#c8102e" stroke-width="1.15" stroke-linejoin="round" points="288.72,349.4 296.96,350.69 305.36,376.5 313.6,376.5 322,376.5 330.24,376.5 338.64,376.5 346.88,345.04 355.28,344.72"/>
<circle cx="288.72" cy="349.4" r="1.62" fill="#c8102e"/>
<circle cx="296.96" cy="350.69" r="1.62" fill="#c8102e"/>
<circle cx="305.36" cy="376.5" r="1.62" fill="#c8102e"/>
<circle cx="313.6" cy="376.5" r="1.62" fill="#c8102e"/>
<circle cx="322" cy="376.5" r="1.62" fill="#c8102e"/>
<circle cx="330.24" cy="376.5" r="1.62" fill="#c8102e"/>
<circle cx="338.64" cy="376.5" r="1.62" fill="#c8102e"/>
<circle cx="346.88" cy="345.04" r="1.62" fill="#c8102e"/>
<circle cx="355.28" cy="344.72" r="1.62" fill="#c8102e"/>
<text x="276.9" y="378.5" font-size="5.7" text-anchor="end" fill="#000" >0</text>
<text x="276.9" y="362.1" font-size="5.7" text-anchor="end" fill="#000" >50</text>
<text x="276.9" y="345.7" font-size="5.7" text-anchor="end" fill="#000" >100</text>
<text x="276.9" y="329.3" font-size="5.7" text-anchor="end" fill="#000" >150</text>
<text transform="translate(366.3 378.5) scale(0.92 1)" font-size="5.7" fill="#000" >10<tspan dy="-2.5" font-size="4.3">0</tspan></text>
<text transform="translate(366.3 368.66) scale(0.92 1)" font-size="5.7" fill="#000" >10<tspan dy="-2.5" font-size="4.3">1</tspan></text>
<text transform="translate(366.3 358.82) scale(0.92 1)" font-size="5.7" fill="#000" >10<tspan dy="-2.5" font-size="4.3">2</tspan></text>
<text transform="translate(366.3 348.98) scale(0.92 1)" font-size="5.7" fill="#000" >10<tspan dy="-2.5" font-size="4.3">3</tspan></text>
<text transform="translate(366.3 339.14) scale(0.92 1)" font-size="5.7" fill="#000" >10<tspan dy="-2.5" font-size="4.3">4</tspan></text>
<text transform="translate(366.3 329.3) scale(0.92 1)" font-size="5.7" fill="#000" >10<tspan dy="-2.5" font-size="4.3">5</tspan></text>
<text transform="translate(288.72 386.9) scale(0.7 1)" font-size="5.8" text-anchor="middle" fill="#000" stroke="#000" stroke-width="0.06" >0</text>
<text transform="translate(296.96 386.9) scale(0.7 1)" font-size="5.8" text-anchor="middle" fill="#000" stroke="#000" stroke-width="0.06" >3</text>
<text transform="translate(305.36 386.9) scale(0.7 1)" font-size="5.8" text-anchor="middle" fill="#000" stroke="#000" stroke-width="0.06" >7</text>
<text transform="translate(313.6 386.9) scale(0.7 1)" font-size="5.8" text-anchor="middle" fill="#000" stroke="#000" stroke-width="0.06" >14</text>
<text transform="translate(322 386.9) scale(0.7 1)" font-size="5.8" text-anchor="middle" fill="#000" stroke="#000" stroke-width="0.06" >21</text>
<text transform="translate(330.24 386.9) scale(0.7 1)" font-size="5.8" text-anchor="middle" fill="#000" stroke="#000" stroke-width="0.06" >28</text>
<text transform="translate(338.64 386.9) scale(0.7 1)" font-size="5.8" text-anchor="middle" fill="#000" stroke="#000" stroke-width="0.06" >60</text>
<text transform="translate(346.88 386.9) scale(0.7 1)" font-size="5.8" text-anchor="middle" fill="#000" stroke="#000" stroke-width="0.06" >90</text>
<text transform="translate(355.28 386.9) scale(0.7 1)" font-size="5.8" text-anchor="middle" fill="#000" stroke="#000" stroke-width="0.06" >120</text>
<text transform="translate(265.2 351.4) rotate(-90) scale(0.8 1)" font-size="7.4" text-anchor="middle" fill="#000" >(%)</text>
<text transform="translate(377.9 351) rotate(90) scale(0.736 1)" font-size="7.7" text-anchor="middle" fill="#000" >CAR gene copies/µg DNA</text>
<text transform="translate(320.9 403.1) scale(0.706 1)" font-size="7.8" text-anchor="middle" fill="#000" >Days post NS7CAR-T cells infusion</text>
<path fill="#6a2383" d="M343.3 389.3l2.15 3.5h-1.5v3.3h-1.3v-3.3h-1.5z"/>
</g>
<g>
<text x="453" y="321.8" font-size="9" text-anchor="middle" fill="#000" stroke="#000" stroke-width="0.12" >Pt.16</text>
<path fill="none" stroke="#1a1a1a" stroke-width="1.45" d="M412.3 322.9V376.5H490.3V322.9"/>
<path fill="none" stroke="#1a1a1a" stroke-width="0.9" d="M412.3 376.5h-3.2M412.3 360.1h-3.2M412.3 343.7h-3.2M412.3 327.3h-3.2M490.3 376.5h3.2M490.3 368.3h3.2M490.3 360.1h3.2M490.3 351.9h3.2M490.3 343.7h3.2M490.3 335.5h3.2M490.3 327.3h3.2M416.46 376.5v3M422.76 376.5v3M429.06 376.5v3M435.36 376.5v3M441.66 376.5v3M447.96 376.5v3M454.26 376.5v3M460.56 376.5v3M466.86 376.5v3M473.16 376.5v3M479.46 376.5v3M485.76 376.5v3"/>
<polyline fill="none" stroke="#25b34b" stroke-width="1.15" stroke-linejoin="round" points="416.46,361.68 422.76,376.22 429.06,368.14 435.36,351.5 441.66,340.19 447.96,333.25 454.26,340.19 460.56,345.85 466.86,353.92 473.16,359.9"/>
<path fill="#25b34b" d="M416.46 360.08l1.5 2.6h-3zM422.76 374.62l1.5 2.6h-3zM429.06 366.54l1.5 2.6h-3zM435.36 349.9l1.5 2.6h-3zM441.66 338.59l1.5 2.6h-3zM447.96 331.65l1.5 2.6h-3zM454.26 338.59l1.5 2.6h-3zM460.56 344.25l1.5 2.6h-3zM466.86 352.32l1.5 2.6h-3zM473.16 358.3l1.5 2.6h-3z"/>
<polyline fill="none" stroke="#0f4c8c" stroke-width="1.15" stroke-linejoin="round" points="416.46,376.22 422.76,376.5 429.06,375.41 435.36,375.25 441.66,375.73 447.96,376.22 454.26,376.5 460.56,375.73 466.86,376.22 473.16,376.05 479.46,368.46 485.76,369.59"/>
<path fill="#0f4c8c" d="M415.06 374.82h2.8v2.8h-2.8zM421.36 375.1h2.8v2.8h-2.8zM427.66 374.01h2.8v2.8h-2.8zM433.96 373.85h2.8v2.8h-2.8zM440.26 374.33h2.8v2.8h-2.8zM446.56 374.82h2.8v2.8h-2.8zM452.86 375.1h2.8v2.8h-2.8zM459.16 374.33h2.8v2.8h-2.8zM465.46 374.82h2.8v2.8h-2.8zM471.76 374.65h2.8v2.8h-2.8zM478.06 367.06h2.8v2.8h-2.8zM484.36 368.19h2.8v2.8h-2.8z"/>
<polyline fill="none" stroke="#c8102e" stroke-width="1.15" stroke-linejoin="round" points="416.46,347.14 422.76,346.98 429.06,347.46 435.36,350.21 441.66,359.58 447.96,371.21 454.26,376.22 460.56,374.92 466.86,376.5 473.16,376.5 479.46,363.94 485.76,345.36"/>
<circle cx="416.46" cy="347.14" r="1.62" fill="#c8102e"/>
<circle cx="422.76" cy="346.98" r="1.62" fill="#c8102e"/>
<circle cx="429.06" cy="347.46" r="1.62" fill="#c8102e"/>
<circle cx="435.36" cy="350.21" r="1.62" fill="#c8102e"/>
<circle cx="441.66" cy="359.58" r="1.62" fill="#c8102e"/>
<circle cx="447.96" cy="371.21" r="1.62" fill="#c8102e"/>
<circle cx="454.26" cy="376.22" r="1.62" fill="#c8102e"/>
<circle cx="460.56" cy="374.92" r="1.62" fill="#c8102e"/>
<circle cx="466.86" cy="376.5" r="1.62" fill="#c8102e"/>
<circle cx="473.16" cy="376.5" r="1.62" fill="#c8102e"/>
<circle cx="479.46" cy="363.94" r="1.62" fill="#c8102e"/>
<circle cx="485.76" cy="345.36" r="1.62" fill="#c8102e"/>
<text x="406.3" y="378.5" font-size="5.7" text-anchor="end" fill="#000" >0</text>
<text x="406.3" y="362.1" font-size="5.7" text-anchor="end" fill="#000" >50</text>
<text x="406.3" y="345.7" font-size="5.7" text-anchor="end" fill="#000" >100</text>
<text x="406.3" y="329.3" font-size="5.7" text-anchor="end" fill="#000" >150</text>
<text transform="translate(495.8 378.5) scale(0.92 1)" font-size="5.7" fill="#000" >10<tspan dy="-2.5" font-size="4.3">0</tspan></text>
<text transform="translate(495.8 370.3) scale(0.92 1)" font-size="5.7" fill="#000" >10<tspan dy="-2.5" font-size="4.3">1</tspan></text>
<text transform="translate(495.8 362.1) scale(0.92 1)" font-size="5.7" fill="#000" >10<tspan dy="-2.5" font-size="4.3">2</tspan></text>
<text transform="translate(495.8 353.9) scale(0.92 1)" font-size="5.7" fill="#000" >10<tspan dy="-2.5" font-size="4.3">3</tspan></text>
<text transform="translate(495.8 345.7) scale(0.92 1)" font-size="5.7" fill="#000" >10<tspan dy="-2.5" font-size="4.3">4</tspan></text>
<text transform="translate(495.8 337.5) scale(0.92 1)" font-size="5.7" fill="#000" >10<tspan dy="-2.5" font-size="4.3">5</tspan></text>
<text transform="translate(495.8 329.3) scale(0.92 1)" font-size="5.7" fill="#000" >10<tspan dy="-2.5" font-size="4.3">6</tspan></text>
<text transform="translate(416.46 386.9) scale(0.7 1)" font-size="5.8" text-anchor="middle" fill="#000" stroke="#000" stroke-width="0.06" >-2</text>
<text transform="translate(422.76 386.9) scale(0.7 1)" font-size="5.8" text-anchor="middle" fill="#000" stroke="#000" stroke-width="0.06" >4</text>
<text transform="translate(429.06 386.9) scale(0.7 1)" font-size="5.8" text-anchor="middle" fill="#000" stroke="#000" stroke-width="0.06" >8</text>
<text transform="translate(435.36 386.9) scale(0.7 1)" font-size="5.8" text-anchor="middle" fill="#000" stroke="#000" stroke-width="0.06" >10</text>
<text transform="translate(441.66 386.9) scale(0.7 1)" font-size="5.8" text-anchor="middle" fill="#000" stroke="#000" stroke-width="0.06" >12</text>
<text transform="translate(447.96 386.9) scale(0.7 1)" font-size="5.8" text-anchor="middle" fill="#000" stroke="#000" stroke-width="0.06" >15</text>
<text transform="translate(454.26 386.9) scale(0.7 1)" font-size="5.8" text-anchor="middle" fill="#000" stroke="#000" stroke-width="0.06" >21</text>
<text transform="translate(460.56 386.9) scale(0.7 1)" font-size="5.8" text-anchor="middle" fill="#000" stroke="#000" stroke-width="0.06" >31</text>
<text transform="translate(466.86 386.9) scale(0.7 1)" font-size="5.8" text-anchor="middle" fill="#000" stroke="#000" stroke-width="0.06" >38</text>
<text transform="translate(473.16 386.9) scale(0.7 1)" font-size="5.8" text-anchor="middle" fill="#000" stroke="#000" stroke-width="0.06" >43</text>
<text transform="translate(479.46 386.9) scale(0.7 1)" font-size="5.8" text-anchor="middle" fill="#000" stroke="#000" stroke-width="0.06" >60</text>
<text transform="translate(485.76 386.9) scale(0.7 1)" font-size="5.8" text-anchor="middle" fill="#000" stroke="#000" stroke-width="0.06" >90</text>
<text transform="translate(394.3 351.4) rotate(-90) scale(0.8 1)" font-size="7.4" text-anchor="middle" fill="#000" >(%)</text>
<text transform="translate(507.4 351) rotate(90) scale(0.736 1)" font-size="7.7" text-anchor="middle" fill="#000" >CAR gene copies/µg DNA</text>
<text transform="translate(450.9 403.1) scale(0.706 1)" font-size="7.8" text-anchor="middle" fill="#000" >Days post NS7CAR-T cells infusion</text>
<path fill="#6a2383" d="M482 389.3l2.15 3.5h-1.5v3.3h-1.3v-3.3h-1.5z"/>
</g>
<g>
<text x="69.4" y="422.7" font-size="9" text-anchor="middle" fill="#000" stroke="#000" stroke-width="0.12" >Pt.17</text>
<path fill="none" stroke="#1a1a1a" stroke-width="1.45" d="M29.3 426.2V480H107.3V426.2"/>
<path fill="none" stroke="#1a1a1a" stroke-width="0.9" d="M29.3 480h-3.2M29.3 463.53h-3.2M29.3 447.07h-3.2M29.3 430.6h-3.2M107.3 480h3.2M107.3 470.12h3.2M107.3 460.24h3.2M107.3 450.36h3.2M107.3 440.48h3.2M107.3 430.6h3.2M35.4 480v3M44.77 480v3M54.14 480v3M63.35 480v3M72.72 480v3M81.92 480v3M91.29 480v3M100.66 480v3"/>
<polyline fill="none" stroke="#25b34b" stroke-width="1.15" stroke-linejoin="round" points="35.4,463.87 44.77,463.38 54.14,456.44 63.35,435.12 72.72,435.92 81.92,441.25 91.29,453.21"/>
<path fill="#25b34b" d="M35.4 462.27l1.5 2.6h-3zM44.77 461.78l1.5 2.6h-3zM54.14 454.84l1.5 2.6h-3zM63.35 433.52l1.5 2.6h-3zM72.72 434.32l1.5 2.6h-3zM81.92 439.65l1.5 2.6h-3zM91.29 451.61l1.5 2.6h-3z"/>
<polyline fill="none" stroke="#0f4c8c" stroke-width="1.15" stroke-linejoin="round" points="35.4,479.86 44.77,475.18 54.14,475.82 63.35,475.98 72.72,479.05 81.92,479.86 91.29,478.73 100.66,478.41"/>
<path fill="#0f4c8c" d="M34 478.46h2.8v2.8h-2.8zM43.37 473.78h2.8v2.8h-2.8zM52.74 474.42h2.8v2.8h-2.8zM61.95 474.58h2.8v2.8h-2.8zM71.32 477.65h2.8v2.8h-2.8zM80.52 478.46h2.8v2.8h-2.8zM89.89 477.33h2.8v2.8h-2.8zM99.26 477.01h2.8v2.8h-2.8z"/>
<polyline fill="none" stroke="#c8102e" stroke-width="1.15" stroke-linejoin="round" points="35.4,449.65 44.77,448.36 54.14,452.4 63.35,455.63 72.72,473.56 81.92,479.22 91.29,472.59 100.66,479.86"/>
<circle cx="35.4" cy="449.65" r="1.62" fill="#c8102e"/>
<circle cx="44.77" cy="448.36" r="1.62" fill="#c8102e"/>
<circle cx="54.14" cy="452.4" r="1.62" fill="#c8102e"/>
<circle cx="63.35" cy="455.63" r="1.62" fill="#c8102e"/>
<circle cx="72.72" cy="473.56" r="1.62" fill="#c8102e"/>
<circle cx="81.92" cy="479.22" r="1.62" fill="#c8102e"/>
<circle cx="91.29" cy="472.59" r="1.62" fill="#c8102e"/>
<circle cx="100.66" cy="479.86" r="1.62" fill="#c8102e"/>
<text x="23.3" y="482" font-size="5.7" text-anchor="end" fill="#000" >0</text>
<text x="23.3" y="465.53" font-size="5.7" text-anchor="end" fill="#000" >50</text>
<text x="23.3" y="449.07" font-size="5.7" text-anchor="end" fill="#000" >100</text>
<text x="23.3" y="432.6" font-size="5.7" text-anchor="end" fill="#000" >150</text>
<text transform="translate(112.8 482) scale(0.92 1)" font-size="5.7" fill="#000" >10<tspan dy="-2.5" font-size="4.3">0</tspan></text>
<text transform="translate(112.8 472.12) scale(0.92 1)" font-size="5.7" fill="#000" >10<tspan dy="-2.5" font-size="4.3">1</tspan></text>
<text transform="translate(112.8 462.24) scale(0.92 1)" font-size="5.7" fill="#000" >10<tspan dy="-2.5" font-size="4.3">2</tspan></text>
<text transform="translate(112.8 452.36) scale(0.92 1)" font-size="5.7" fill="#000" >10<tspan dy="-2.5" font-size="4.3">3</tspan></text>
<text transform="translate(112.8 442.48) scale(0.92 1)" font-size="5.7" fill="#000" >10<tspan dy="-2.5" font-size="4.3">4</tspan></text>
<text transform="translate(112.8 432.6) scale(0.92 1)" font-size="5.7" fill="#000" >10<tspan dy="-2.5" font-size="4.3">5</tspan></text>
<text transform="translate(35.4 490.6) scale(0.7 1)" font-size="5.8" text-anchor="middle" fill="#000" stroke="#000" stroke-width="0.06" >0</text>
<text transform="translate(44.77 490.6) scale(0.7 1)" font-size="5.8" text-anchor="middle" fill="#000" stroke="#000" stroke-width="0.06" >4</text>
<text transform="translate(54.14 490.6) scale(0.7 1)" font-size="5.8" text-anchor="middle" fill="#000" stroke="#000" stroke-width="0.06" >7</text>
<text transform="translate(63.35 490.6) scale(0.7 1)" font-size="5.8" text-anchor="middle" fill="#000" stroke="#000" stroke-width="0.06" >10</text>
<text transform="translate(72.72 490.6) scale(0.7 1)" font-size="5.8" text-anchor="middle" fill="#000" stroke="#000" stroke-width="0.06" >14</text>
<text transform="translate(81.92 490.6) scale(0.7 1)" font-size="5.8" text-anchor="middle" fill="#000" stroke="#000" stroke-width="0.06" >20</text>
<text transform="translate(91.29 490.6) scale(0.7 1)" font-size="5.8" text-anchor="middle" fill="#000" stroke="#000" stroke-width="0.06" >31</text>
<text transform="translate(100.66 490.6) scale(0.7 1)" font-size="5.8" text-anchor="middle" fill="#000" stroke="#000" stroke-width="0.06" >50</text>
<text transform="translate(12.2 455.3) rotate(-90) scale(0.8 1)" font-size="7.4" text-anchor="middle" fill="#000" >(%)</text>
<text transform="translate(124.4 453.65) rotate(90) scale(0.736 1)" font-size="7.7" text-anchor="middle" fill="#000" >CAR gene copies/µg DNA</text>
<text transform="translate(69.4 502.4) scale(0.706 1)" font-size="7.8" text-anchor="middle" fill="#000" >Days post NS7CAR-T cells infusion</text>
</g>
<g>
<text x="194.93" y="422.7" font-size="9" text-anchor="middle" fill="#000" stroke="#000" stroke-width="0.12" >Pt.18</text>
<path fill="none" stroke="#1a1a1a" stroke-width="1.45" d="M156 426.2V480H233.85V426.2"/>
<path fill="none" stroke="#1a1a1a" stroke-width="0.9" d="M156 480h-3.2M156 463.53h-3.2M156 447.07h-3.2M156 430.6h-3.2M233.85 480h3.2M233.85 470.12h3.2M233.85 460.24h3.2M233.85 450.36h3.2M233.85 440.48h3.2M233.85 430.6h3.2M161.08 480v3M168.51 480v3M175.94 480v3M183.37 480v3M190.96 480v3M198.39 480v3M205.98 480v3M213.42 480v3M221.01 480v3M228.44 480v3"/>
<polyline fill="none" stroke="#25b34b" stroke-width="1.15" stroke-linejoin="round" points="161.08,479.86 168.51,458.54 175.94,460.15 183.37,469.85 190.96,479.86 198.39,454.5 205.98,435.12 213.42,434.79 221.01,443.68"/>
<path fill="#25b34b" d="M161.08 478.26l1.5 2.6h-3zM168.51 456.94l1.5 2.6h-3zM175.94 458.55l1.5 2.6h-3zM183.37 468.25l1.5 2.6h-3zM190.96 478.26l1.5 2.6h-3zM198.39 452.9l1.5 2.6h-3zM205.98 433.52l1.5 2.6h-3zM213.42 433.19l1.5 2.6h-3zM221.01 442.08l1.5 2.6h-3z"/>
<polyline fill="none" stroke="#0f4c8c" stroke-width="1.15" stroke-linejoin="round" points="161.08,466.94 168.51,456.44 175.94,451.75 183.37,455.79 190.96,452.08 198.39,458.22 205.98,479.86 213.42,466.29 221.01,479.86 228.44,478.73"/>
<path fill="#0f4c8c" d="M159.68 465.54h2.8v2.8h-2.8zM167.11 455.04h2.8v2.8h-2.8zM174.54 450.35h2.8v2.8h-2.8zM181.97 454.39h2.8v2.8h-2.8zM189.56 450.68h2.8v2.8h-2.8zM196.99 456.82h2.8v2.8h-2.8zM204.58 478.46h2.8v2.8h-2.8zM212.02 464.89h2.8v2.8h-2.8zM219.61 478.46h2.8v2.8h-2.8zM227.04 477.33h2.8v2.8h-2.8z"/>
<polyline fill="none" stroke="#c8102e" stroke-width="1.15" stroke-linejoin="round" points="161.08,456.92 168.51,454.02 175.94,453.21 183.37,453.69 190.96,450.95 198.39,455.79 205.98,475.18 213.42,477.6 221.01,479.86 228.44,479.54"/>
<circle cx="161.08" cy="456.92" r="1.62" fill="#c8102e"/>
<circle cx="168.51" cy="454.02" r="1.62" fill="#c8102e"/>
<circle cx="175.94" cy="453.21" r="1.62" fill="#c8102e"/>
<circle cx="183.37" cy="453.69" r="1.62" fill="#c8102e"/>
<circle cx="190.96" cy="450.95" r="1.62" fill="#c8102e"/>
<circle cx="198.39" cy="455.79" r="1.62" fill="#c8102e"/>
<circle cx="205.98" cy="475.18" r="1.62" fill="#c8102e"/>
<circle cx="213.42" cy="477.6" r="1.62" fill="#c8102e"/>
<circle cx="221.01" cy="479.86" r="1.62" fill="#c8102e"/>
<circle cx="228.44" cy="479.54" r="1.62" fill="#c8102e"/>
<text x="150" y="482" font-size="5.7" text-anchor="end" fill="#000" >0</text>
<text x="150" y="465.53" font-size="5.7" text-anchor="end" fill="#000" >50</text>
<text x="150" y="449.07" font-size="5.7" text-anchor="end" fill="#000" >100</text>
<text x="150" y="432.6" font-size="5.7" text-anchor="end" fill="#000" >150</text>
<text transform="translate(239.35 482) scale(0.92 1)" font-size="5.7" fill="#000" >10<tspan dy="-2.5" font-size="4.3">0</tspan></text>
<text transform="translate(239.35 472.12) scale(0.92 1)" font-size="5.7" fill="#000" >10<tspan dy="-2.5" font-size="4.3">1</tspan></text>
<text transform="translate(239.35 462.24) scale(0.92 1)" font-size="5.7" fill="#000" >10<tspan dy="-2.5" font-size="4.3">2</tspan></text>
<text transform="translate(239.35 452.36) scale(0.92 1)" font-size="5.7" fill="#000" >10<tspan dy="-2.5" font-size="4.3">3</tspan></text>
<text transform="translate(239.35 442.48) scale(0.92 1)" font-size="5.7" fill="#000" >10<tspan dy="-2.5" font-size="4.3">4</tspan></text>
<text transform="translate(239.35 432.6) scale(0.92 1)" font-size="5.7" fill="#000" >10<tspan dy="-2.5" font-size="4.3">5</tspan></text>
<text transform="translate(161.08 490.6) scale(0.7 1)" font-size="5.8" text-anchor="middle" fill="#000" stroke="#000" stroke-width="0.06" >-1</text>
<text transform="translate(168.51 490.6) scale(0.7 1)" font-size="5.8" text-anchor="middle" fill="#000" stroke="#000" stroke-width="0.06" >4</text>
<text transform="translate(175.94 490.6) scale(0.7 1)" font-size="5.8" text-anchor="middle" fill="#000" stroke="#000" stroke-width="0.06" >7</text>
<text transform="translate(183.37 490.6) scale(0.7 1)" font-size="5.8" text-anchor="middle" fill="#000" stroke="#000" stroke-width="0.06" >11</text>
<text transform="translate(190.96 490.6) scale(0.7 1)" font-size="5.8" text-anchor="middle" fill="#000" stroke="#000" stroke-width="0.06" >13</text>
<text transform="translate(198.39 490.6) scale(0.7 1)" font-size="5.8" text-anchor="middle" fill="#000" stroke="#000" stroke-width="0.06" >17</text>
<text transform="translate(205.98 490.6) scale(0.7 1)" font-size="5.8" text-anchor="middle" fill="#000" stroke="#000" stroke-width="0.06" >21</text>
<text transform="translate(213.42 490.6) scale(0.7 1)" font-size="5.8" text-anchor="middle" fill="#000" stroke="#000" stroke-width="0.06" >24</text>
<text transform="translate(221.01 490.6) scale(0.7 1)" font-size="5.8" text-anchor="middle" fill="#000" stroke="#000" stroke-width="0.06" >32</text>
<text transform="translate(228.44 490.6) scale(0.7 1)" font-size="5.8" text-anchor="middle" fill="#000" stroke="#000" stroke-width="0.06" >48</text>
<text transform="translate(139.4 455.3) rotate(-90) scale(0.8 1)" font-size="7.4" text-anchor="middle" fill="#000" >(%)</text>
<text transform="translate(250.95 453.65) rotate(90) scale(0.736 1)" font-size="7.7" text-anchor="middle" fill="#000" >CAR gene copies/µg DNA</text>
<text transform="translate(194.78 502.4) scale(0.706 1)" font-size="7.8" text-anchor="middle" fill="#000" >Days post NS7CAR-T cells infusion</text>
</g>
<g>
<text x="322.3" y="422.7" font-size="9" text-anchor="middle" fill="#000" stroke="#000" stroke-width="0.12" >Pt.19</text>
<path fill="none" stroke="#1a1a1a" stroke-width="1.45" d="M282.9 426.2V480H360.8V426.2"/>
<path fill="none" stroke="#1a1a1a" stroke-width="0.9" d="M282.9 480h-3.2M282.9 463.53h-3.2M282.9 447.07h-3.2M282.9 430.6h-3.2M360.8 480h3.2M360.8 470.12h3.2M360.8 460.24h3.2M360.8 450.36h3.2M360.8 440.48h3.2M360.8 430.6h3.2M290.02 480v3M300.68 480v3M311.18 480v3M321.84 480v3M332.34 480v3M343 480v3M353.5 480v3"/>
<polyline fill="none" stroke="#25b34b" stroke-width="1.15" stroke-linejoin="round" points="290.02,466.29 300.68,459.83 311.18,439.15 321.84,433.02 332.34,434.31 343,443.52"/>
<path fill="#25b34b" d="M290.02 464.69l1.5 2.6h-3zM300.68 458.23l1.5 2.6h-3zM311.18 437.55l1.5 2.6h-3zM321.84 431.42l1.5 2.6h-3zM332.34 432.71l1.5 2.6h-3zM343 441.92l1.5 2.6h-3z"/>
<polyline fill="none" stroke="#0f4c8c" stroke-width="1.15" stroke-linejoin="round" points="290.02,457.41 300.68,464.52 311.18,451.75 321.84,479.86 332.34,479.86 343,479.86 353.5,479.54"/>
<path fill="#0f4c8c" d="M288.62 456.01h2.8v2.8h-2.8zM299.28 463.12h2.8v2.8h-2.8zM309.78 450.35h2.8v2.8h-2.8zM320.44 478.46h2.8v2.8h-2.8zM330.94 478.46h2.8v2.8h-2.8zM341.6 478.46h2.8v2.8h-2.8zM352.1 478.14h2.8v2.8h-2.8z"/>
<polyline fill="none" stroke="#c8102e" stroke-width="1.15" stroke-linejoin="round" points="290.02,448.85 300.68,452.08 311.18,449.65 321.84,478.41 332.34,479.86 343,479.86 353.5,479.05"/>
<circle cx="290.02" cy="448.85" r="1.62" fill="#c8102e"/>
<circle cx="300.68" cy="452.08" r="1.62" fill="#c8102e"/>
<circle cx="311.18" cy="449.65" r="1.62" fill="#c8102e"/>
<circle cx="321.84" cy="478.41" r="1.62" fill="#c8102e"/>
<circle cx="332.34" cy="479.86" r="1.62" fill="#c8102e"/>
<circle cx="343" cy="479.86" r="1.62" fill="#c8102e"/>
<circle cx="353.5" cy="479.05" r="1.62" fill="#c8102e"/>
<text x="276.9" y="482" font-size="5.7" text-anchor="end" fill="#000" >0</text>
<text x="276.9" y="465.53" font-size="5.7" text-anchor="end" fill="#000" >50</text>
<text x="276.9" y="449.07" font-size="5.7" text-anchor="end" fill="#000" >100</text>
<text x="276.9" y="432.6" font-size="5.7" text-anchor="end" fill="#000" >150</text>
<text transform="translate(366.3 482) scale(0.92 1)" font-size="5.7" fill="#000" >10<tspan dy="-2.5" font-size="4.3">0</tspan></text>
<text transform="translate(366.3 472.12) scale(0.92 1)" font-size="5.7" fill="#000" >10<tspan dy="-2.5" font-size="4.3">1</tspan></text>
<text transform="translate(366.3 462.24) scale(0.92 1)" font-size="5.7" fill="#000" >10<tspan dy="-2.5" font-size="4.3">2</tspan></text>
<text transform="translate(366.3 452.36) scale(0.92 1)" font-size="5.7" fill="#000" >10<tspan dy="-2.5" font-size="4.3">3</tspan></text>
<text transform="translate(366.3 442.48) scale(0.92 1)" font-size="5.7" fill="#000" >10<tspan dy="-2.5" font-size="4.3">4</tspan></text>
<text transform="translate(366.3 432.6) scale(0.92 1)" font-size="5.7" fill="#000" >10<tspan dy="-2.5" font-size="4.3">5</tspan></text>
<text transform="translate(290.02 490.6) scale(0.7 1)" font-size="5.8" text-anchor="middle" fill="#000" stroke="#000" stroke-width="0.06" >0</text>
<text transform="translate(300.68 490.6) scale(0.7 1)" font-size="5.8" text-anchor="middle" fill="#000" stroke="#000" stroke-width="0.06" >4</text>
<text transform="translate(311.18 490.6) scale(0.7 1)" font-size="5.8" text-anchor="middle" fill="#000" stroke="#000" stroke-width="0.06" >7</text>
<text transform="translate(321.84 490.6) scale(0.7 1)" font-size="5.8" text-anchor="middle" fill="#000" stroke="#000" stroke-width="0.06" >11</text>
<text transform="translate(332.34 490.6) scale(0.7 1)" font-size="5.8" text-anchor="middle" fill="#000" stroke="#000" stroke-width="0.06" >15</text>
<text transform="translate(343 490.6) scale(0.7 1)" font-size="5.8" text-anchor="middle" fill="#000" stroke="#000" stroke-width="0.06" >22</text>
<text transform="translate(353.5 490.6) scale(0.7 1)" font-size="5.8" text-anchor="middle" fill="#000" stroke="#000" stroke-width="0.06" >28</text>
<text transform="translate(265.2 455.3) rotate(-90) scale(0.8 1)" font-size="7.4" text-anchor="middle" fill="#000" >(%)</text>
<text transform="translate(377.9 453.65) rotate(90) scale(0.736 1)" font-size="7.7" text-anchor="middle" fill="#000" >CAR gene copies/µg DNA</text>
<text transform="translate(320.9 502.4) scale(0.706 1)" font-size="7.8" text-anchor="middle" fill="#000" >Days post NS7CAR-T cells infusion</text>
</g>
<g>
<text x="451.7" y="422.7" font-size="9" text-anchor="middle" fill="#000" stroke="#000" stroke-width="0.12" >Pt.20</text>
<path fill="none" stroke="#1a1a1a" stroke-width="1.45" d="M412.3 426.2V480H490.3V426.2"/>
<path fill="none" stroke="#1a1a1a" stroke-width="0.9" d="M412.3 480h-3.2M412.3 463.53h-3.2M412.3 447.07h-3.2M412.3 430.6h-3.2M490.3 480h3.2M490.3 471.77h3.2M490.3 463.53h3.2M490.3 455.3h3.2M490.3 447.07h3.2M490.3 438.83h3.2M490.3 430.6h3.2M419.69 480v3M430.19 480v3M440.69 480v3M451.35 480v3M461.85 480v3M472.52 480v3M483.02 480v3"/>
<polyline fill="none" stroke="#25b34b" stroke-width="1.15" stroke-linejoin="round" points="419.69,479.86 430.19,479.86 440.69,479.86 451.35,452.72 461.85,438.67 472.52,442.71"/>
<path fill="#25b34b" d="M419.69 478.26l1.5 2.6h-3zM430.19 478.26l1.5 2.6h-3zM440.69 478.26l1.5 2.6h-3zM451.35 451.12l1.5 2.6h-3zM461.85 437.07l1.5 2.6h-3zM472.52 441.11l1.5 2.6h-3z"/>
<polyline fill="none" stroke="#0f4c8c" stroke-width="1.15" stroke-linejoin="round" points="419.69,451.27 430.19,450.14 440.69,449.33 451.35,452.88 461.85,479.05 472.52,479.54 483.02,478.73"/>
<path fill="#0f4c8c" d="M418.29 449.87h2.8v2.8h-2.8zM428.79 448.74h2.8v2.8h-2.8zM439.29 447.93h2.8v2.8h-2.8zM449.95 451.48h2.8v2.8h-2.8zM460.45 477.65h2.8v2.8h-2.8zM471.12 478.14h2.8v2.8h-2.8zM481.62 477.33h2.8v2.8h-2.8z"/>
<polyline fill="none" stroke="#c8102e" stroke-width="1.15" stroke-linejoin="round" points="419.69,450.46 430.19,451.59 440.69,452.4 451.35,461.28 461.85,476.79 472.52,479.86 483.02,479.54"/>
<circle cx="419.69" cy="450.46" r="1.62" fill="#c8102e"/>
<circle cx="430.19" cy="451.59" r="1.62" fill="#c8102e"/>
<circle cx="440.69" cy="452.4" r="1.62" fill="#c8102e"/>
<circle cx="451.35" cy="461.28" r="1.62" fill="#c8102e"/>
<circle cx="461.85" cy="476.79" r="1.62" fill="#c8102e"/>
<circle cx="472.52" cy="479.86" r="1.62" fill="#c8102e"/>
<circle cx="483.02" cy="479.54" r="1.62" fill="#c8102e"/>
<text x="406.3" y="482" font-size="5.7" text-anchor="end" fill="#000" >0</text>
<text x="406.3" y="465.53" font-size="5.7" text-anchor="end" fill="#000" >50</text>
<text x="406.3" y="449.07" font-size="5.7" text-anchor="end" fill="#000" >100</text>
<text x="406.3" y="432.6" font-size="5.7" text-anchor="end" fill="#000" >150</text>
<text transform="translate(495.8 482) scale(0.92 1)" font-size="5.7" fill="#000" >10<tspan dy="-2.5" font-size="4.3">0</tspan></text>
<text transform="translate(495.8 473.77) scale(0.92 1)" font-size="5.7" fill="#000" >10<tspan dy="-2.5" font-size="4.3">1</tspan></text>
<text transform="translate(495.8 465.53) scale(0.92 1)" font-size="5.7" fill="#000" >10<tspan dy="-2.5" font-size="4.3">2</tspan></text>
<text transform="translate(495.8 457.3) scale(0.92 1)" font-size="5.7" fill="#000" >10<tspan dy="-2.5" font-size="4.3">3</tspan></text>
<text transform="translate(495.8 449.07) scale(0.92 1)" font-size="5.7" fill="#000" >10<tspan dy="-2.5" font-size="4.3">4</tspan></text>
<text transform="translate(495.8 440.83) scale(0.92 1)" font-size="5.7" fill="#000" >10<tspan dy="-2.5" font-size="4.3">5</tspan></text>
<text transform="translate(495.8 432.6) scale(0.92 1)" font-size="5.7" fill="#000" >10<tspan dy="-2.5" font-size="4.3">6</tspan></text>
<text transform="translate(419.69 490.6) scale(0.7 1)" font-size="5.8" text-anchor="middle" fill="#000" stroke="#000" stroke-width="0.06" >0</text>
<text transform="translate(430.19 490.6) scale(0.7 1)" font-size="5.8" text-anchor="middle" fill="#000" stroke="#000" stroke-width="0.06" >4</text>
<text transform="translate(440.69 490.6) scale(0.7 1)" font-size="5.8" text-anchor="middle" fill="#000" stroke="#000" stroke-width="0.06" >7</text>
<text transform="translate(451.35 490.6) scale(0.7 1)" font-size="5.8" text-anchor="middle" fill="#000" stroke="#000" stroke-width="0.06" >11</text>
<text transform="translate(461.85 490.6) scale(0.7 1)" font-size="5.8" text-anchor="middle" fill="#000" stroke="#000" stroke-width="0.06" >15</text>
<text transform="translate(472.52 490.6) scale(0.7 1)" font-size="5.8" text-anchor="middle" fill="#000" stroke="#000" stroke-width="0.06" >21</text>
<text transform="translate(483.02 490.6) scale(0.7 1)" font-size="5.8" text-anchor="middle" fill="#000" stroke="#000" stroke-width="0.06" >29</text>
<text transform="translate(394.3 455.3) rotate(-90) scale(0.8 1)" font-size="7.4" text-anchor="middle" fill="#000" >(%)</text>
<text transform="translate(507.4 453.65) rotate(90) scale(0.736 1)" font-size="7.7" text-anchor="middle" fill="#000" >CAR gene copies/µg DNA</text>
<text transform="translate(450.9 502.4) scale(0.706 1)" font-size="7.8" text-anchor="middle" fill="#000" >Days post NS7CAR-T cells infusion</text>
</g>
<path stroke="#c8102e" stroke-width="1.1" d="M105.5 518.3H119.5"/>
<circle cx="112.5" cy="518.3" r="1.45" fill="#c8102e"/>
<path stroke="#0f4c8c" stroke-width="1.1" d="M175 518.3H188.8"/>
<rect x="180.5" y="517" width="2.6" height="2.6" fill="#0f4c8c"/>
<path stroke="#25b34b" stroke-width="1.1" d="M240.5 518.3H254.5"/>
<path fill="#25b34b" d="M247.5 516.8l1.4 2.4h-2.8z"/>
<text x="123.2" y="520.8" font-size="7" fill="#000" stroke="#000" stroke-width="0.12"  textLength="34.8" lengthAdjust="spacingAndGlyphs">CD7<tspan dy="-2.6" font-size="5">+</tspan><tspan dy="2.6">/CD3</tspan></text>
<text x="192" y="520.8" font-size="7" fill="#000" stroke="#000" stroke-width="0.12"  textLength="31" lengthAdjust="spacingAndGlyphs">CD7<tspan dy="-2.6" font-size="5">+</tspan><tspan dy="2.6">/NK</tspan></text>
<text x="258" y="520.8" font-size="7" fill="#000" stroke="#000" stroke-width="0.12"  textLength="72" lengthAdjust="spacingAndGlyphs">CD7CAR gene copies</text>
<path fill="#6a2383" d="M347 515.2l2 3.2h-1.4v4h-1.2v-4h-1.4z"/>
<text x="353" y="520.8" font-size="7" fill="#000" stroke="#000" stroke-width="0.12"  textLength="59" lengthAdjust="spacingAndGlyphs">Date of allo-HSCT</text>
<path fill="#000" d="M0 0H520V1H0zM0 0H1V528H0zM0 526.6H520V528H0zM518.9 0H520V528H518.9z"/>
</svg>
</body></html>
